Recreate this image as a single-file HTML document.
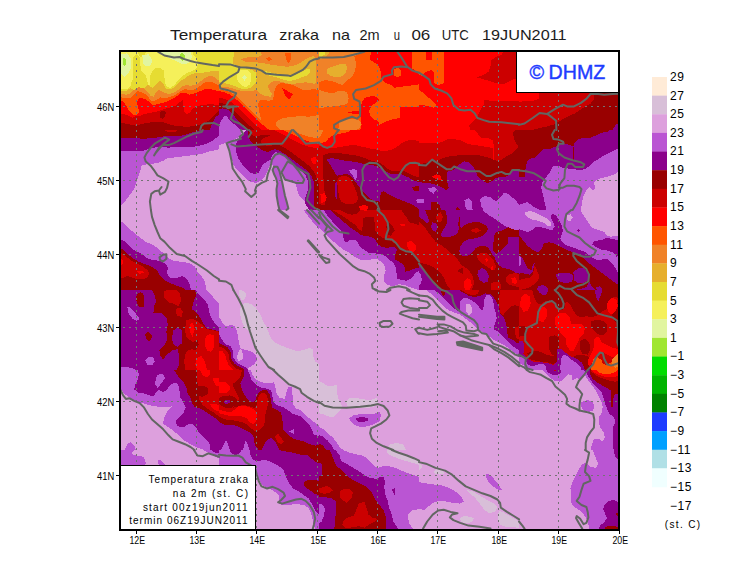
<!DOCTYPE html>
<html><head><meta charset="utf-8"><title>Temperatura zraka na 2m</title>
<style>
html,body{margin:0;padding:0;background:#fff;}
body{width:740px;height:582px;overflow:hidden;font-family:"Liberation Sans",sans-serif;}
svg{display:block;}
text{font-family:"Liberation Sans",sans-serif;fill:#000;}
.ax{font-size:11.5px;}
.lg{font-size:12px;letter-spacing:0.5px;}
.ttl{font-size:15px;fill:#1c1c1c;}
.box{font-size:10px;}
.dh{font-size:21px;fill:#1E3CFF;stroke:#1E3CFF;stroke-width:0.45px;}
</style></head><body>
<svg width="740" height="582" viewBox="0 0 740 582">
<defs>
<clipPath id="mapclip"><rect x="121" y="52" width="497" height="477"/></clipPath>
<clipPath id="c0"><rect x="119" y="50" width="100" height="80"/></clipPath>
<clipPath id="c1"><rect x="219" y="50" width="100" height="80"/></clipPath>
<clipPath id="c2"><rect x="319" y="50" width="100" height="80"/></clipPath>
<clipPath id="c3"><rect x="419" y="50" width="100" height="80"/></clipPath>
<clipPath id="c4"><rect x="519" y="50" width="100" height="80"/></clipPath>
<clipPath id="c5"><rect x="119" y="130" width="100" height="80"/></clipPath>
<clipPath id="c6"><rect x="219" y="130" width="100" height="80"/></clipPath>
<clipPath id="c7"><rect x="319" y="130" width="100" height="80"/></clipPath>
<clipPath id="c8"><rect x="419" y="130" width="100" height="80"/></clipPath>
<clipPath id="c9"><rect x="519" y="130" width="100" height="80"/></clipPath>
<clipPath id="c10"><rect x="119" y="210" width="100" height="80"/></clipPath>
<clipPath id="c11"><rect x="219" y="210" width="100" height="80"/></clipPath>
<clipPath id="c12"><rect x="319" y="210" width="100" height="80"/></clipPath>
<clipPath id="c13"><rect x="419" y="210" width="100" height="80"/></clipPath>
<clipPath id="c14"><rect x="519" y="210" width="100" height="80"/></clipPath>
<clipPath id="c15"><rect x="119" y="290" width="100" height="80"/></clipPath>
<clipPath id="c16"><rect x="219" y="290" width="100" height="80"/></clipPath>
<clipPath id="c17"><rect x="319" y="290" width="100" height="80"/></clipPath>
<clipPath id="c18"><rect x="419" y="290" width="100" height="80"/></clipPath>
<clipPath id="c19"><rect x="519" y="290" width="100" height="80"/></clipPath>
<clipPath id="c20"><rect x="119" y="370" width="100" height="80"/></clipPath>
<clipPath id="c21"><rect x="219" y="370" width="100" height="80"/></clipPath>
<clipPath id="c22"><rect x="319" y="370" width="100" height="80"/></clipPath>
<clipPath id="c23"><rect x="419" y="370" width="100" height="80"/></clipPath>
<clipPath id="c24"><rect x="519" y="370" width="100" height="80"/></clipPath>
<clipPath id="c25"><rect x="119" y="450" width="100" height="80"/></clipPath>
<clipPath id="c26"><rect x="219" y="450" width="100" height="80"/></clipPath>
<clipPath id="c27"><rect x="319" y="450" width="100" height="80"/></clipPath>
<clipPath id="c28"><rect x="419" y="450" width="100" height="80"/></clipPath>
<clipPath id="c29"><rect x="519" y="450" width="100" height="80"/></clipPath>
</defs>
<rect x="0" y="0" width="740" height="582" fill="#fff"/>
<g clip-path="url(#mapclip)" shape-rendering="crispEdges">
<rect x="121" y="52" width="497" height="477" fill="#DDA0DD"/>
<g clip-path="url(#c0)">
<rect x="119" y="50" width="100" height="80" fill="#990000"/>
<path d="M219.1 114.6 L215.2 117.4 L213.6 120.4 L211.8 124.2 L209.7 130.0 L219.1 130.0Z" fill="#8B008B"/>
<path d="M119.0 50.0 L219.1 50.0 L219.1 110.5 L215.2 114.6 L209.7 120.1 L201.5 124.2 L187.7 127.0 L174.0 125.6 L160.2 121.5 L146.5 122.9 L135.5 125.6 L121.7 122.9 L119.0 122.9 L119.0 122.9Z" fill="#CC0000"/>
<path d="M160.2 111.9 L163.7 110.8 L166.0 112.5 L165.0 116.0 L162.7 118.7 L160.2 118.0 L159.5 114.6Z" fill="#990000"/>
<path d="M119.0 50.0 L219.1 50.0 L219.1 104.7 L208.3 104.3 L201.5 105.3 L196.8 106.1 L193.2 108.4 L189.8 112.5 L187.0 113.9 L184.7 112.5 L183.6 107.7 L182.5 100.2 L179.5 102.2 L175.4 105.7 L169.9 107.7 L164.4 108.8 L160.2 110.5 L154.7 112.1 L149.2 113.0 L143.7 114.3 L139.6 116.3 L136.2 115.7 L132.7 117.6 L129.3 116.0 L125.2 114.6 L120.9 113.9 L119.0 113.9Z" fill="#FF0000"/>
<path d="M119.0 50.0 L219.1 50.0 L219.1 91.2 L213.8 89.9 L208.3 88.5 L204.2 89.2 L200.1 91.2 L196.8 92.6 L193.2 94.0 L189.1 94.7 L185.0 92.6 L181.5 92.6 L178.1 95.4 L174.0 98.1 L169.9 100.2 L165.7 102.2 L161.6 102.9 L157.5 104.3 L153.4 105.0 L150.6 103.6 L147.9 100.9 L145.1 98.8 L141.0 98.1 L138.2 98.8 L136.9 102.2 L138.2 107.7 L139.6 111.9 L136.9 114.6 L134.1 115.3 L131.4 113.2 L128.6 110.5 L125.9 105.0 L123.1 101.5 L120.9 100.2 L119.0 100.2Z" fill="#FF5500"/>
<path d="M119.0 50.0 L219.1 50.0 L219.1 85.7 L215.2 83.7 L211.1 81.6 L207.0 81.6 L202.8 83.7 L198.7 87.1 L196.8 88.5 L193.2 89.9 L189.1 89.9 L185.0 89.2 L180.9 91.2 L176.7 94.0 L172.6 96.0 L168.5 97.4 L164.4 98.1 L160.2 97.4 L157.5 99.5 L153.4 101.5 L150.6 100.2 L147.9 96.7 L145.1 94.0 L141.0 91.9 L136.9 91.2 L134.1 94.0 L131.4 97.4 L127.2 98.1 L120.9 97.4 L119.0 97.4Z" fill="#F08228"/>
<path d="M119.0 50.0 L219.1 50.0 L219.1 80.9 L215.2 77.5 L211.1 75.4 L207.0 76.8 L202.8 79.6 L198.7 83.0 L194.6 85.1 L190.5 85.7 L186.4 85.1 L182.2 86.4 L178.1 89.9 L174.0 92.6 L169.9 94.0 L165.7 93.3 L161.6 91.2 L158.9 89.9 L156.1 92.6 L153.4 96.7 L150.6 96.0 L147.9 91.9 L145.1 89.2 L141.0 87.1 L138.2 85.1 L135.5 87.1 L132.7 91.2 L130.0 94.0 L125.9 94.7 L120.9 94.0 L119.0 94.0Z" fill="#E6AF2D"/>
<path d="M119.0 50.0 L219.1 50.0 L219.1 70.6 L213.8 70.6 L208.3 72.0 L202.8 72.7 L197.4 73.1 L193.2 73.6 L189.1 75.4 L185.0 78.2 L180.9 80.9 L177.4 84.4 L174.0 87.4 L170.1 89.6 L166.4 88.8 L164.4 86.0 L162.3 82.3 L160.2 80.9 L157.5 83.0 L154.7 86.4 L152.0 87.8 L149.5 85.7 L147.9 82.3 L145.8 79.6 L143.1 78.2 L139.6 75.4 L136.9 74.7 L134.8 77.5 L132.7 83.0 L130.7 87.8 L127.2 90.5 L120.9 91.2 L119.0 91.2Z" fill="#E6DC32"/>
<path d="M119.0 50.0 L193.2 50.0 L193.2 54.1 L196.0 58.2 L198.0 63.7 L196.0 69.2 L191.9 71.3 L187.7 72.7 L183.6 75.4 L179.5 78.9 L176.0 83.0 L173.3 86.0 L170.1 87.8 L167.1 87.1 L165.5 84.4 L164.4 77.5 L163.7 70.6 L160.2 67.9 L156.1 67.9 L152.7 70.6 L149.9 76.1 L149.5 85.1 L147.9 84.4 L147.2 80.2 L145.8 76.8 L143.1 74.7 L139.6 73.4 L136.9 72.7 L134.4 74.7 L132.7 79.6 L131.1 85.1 L127.9 88.5 L119.0 89.9Z" fill="#F5F05A"/>
<path d="M136.9 50.0 L146.5 50.0 L144.4 55.5 L141.7 57.6 L138.9 55.5Z" fill="#E6DC32"/>
<path d="M132.7 58.2 L136.9 54.1 L139.6 56.9 L140.3 63.7 L141.0 70.6 L145.1 74.1 L147.2 80.2 L147.9 84.4 L143.7 88.5 L138.2 87.1 L134.1 89.9 L131.4 88.5 L130.7 84.4 L132.7 79.6 L133.4 73.4 L132.7 66.5Z" fill="#E6DC32"/>
<path d="M121.7 54.1 L127.2 53.4 L130.7 58.2 L131.4 66.5 L128.6 73.4 L124.5 76.8 L121.7 74.7 L119.0 63.7 L119.0 54.1Z" fill="#E1F5A0"/>
<path d="M142.4 55.5 L148.6 54.1 L152.0 59.6 L151.3 65.1 L146.5 66.5 L143.1 63.7Z" fill="#E1F5A0"/>
<path d="M158.9 50.0 L190.5 50.0 L191.9 56.9 L189.8 61.7 L185.7 64.4 L180.9 63.7 L176.7 61.0 L172.6 59.6 L167.1 56.9 L161.6 54.1Z" fill="#E1F5A0"/>
<path d="M123.1 58.2 L125.2 57.6 L126.1 61.0 L125.9 65.1 L124.2 66.8 L123.1 63.7Z" fill="#A0E632"/>
<path d="M179.5 54.1 L182.9 53.0 L185.3 56.2 L184.7 59.6 L182.2 61.0 L180.2 58.2Z" fill="#A0E632"/>
</g>
<g clip-path="url(#c1)">
<rect x="219" y="50" width="100" height="80" fill="#FF5500"/>
<path d="M219.0 50.0 L319.1 50.0 L319.1 89.9 L313.8 89.2 L308.3 89.9 L302.8 89.9 L297.4 87.1 L291.9 84.6 L286.4 83.7 L280.9 83.0 L276.7 85.1 L274.7 89.9 L274.0 95.4 L272.6 99.5 L268.5 100.9 L263.0 99.5 L258.9 100.9 L258.2 105.0 L258.9 110.5 L260.2 116.0 L261.6 120.1 L260.2 119.4 L256.1 115.3 L251.3 110.5 L246.5 105.7 L241.7 100.9 L236.9 96.7 L230.0 91.9 L224.5 90.5 L219.0 89.6Z" fill="#F08228"/>
<path d="M319.1 114.6 L313.8 116.0 L308.3 116.7 L301.5 116.0 L294.6 116.7 L287.7 117.4 L280.9 118.7 L276.7 121.5 L275.4 124.9 L278.1 127.7 L280.9 130.0 L319.1 130.0Z" fill="#F08228"/>
<path d="M219.0 50.0 L258.9 50.0 L262.3 54.8 L258.2 56.9 L251.3 56.6 L244.4 58.0 L241.0 59.6 L245.8 61.7 L254.7 62.1 L263.0 63.2 L271.2 64.8 L279.5 65.9 L287.7 66.8 L294.6 65.4 L300.8 62.6 L305.6 59.3 L310.4 56.9 L313.8 56.2 L315.9 58.2 L316.3 70.6 L315.9 83.0 L313.8 83.8 L311.1 83.0 L305.6 82.3 L300.1 83.0 L294.6 83.7 L289.1 83.7 L283.6 82.3 L278.1 80.9 L274.0 80.9 L269.9 83.0 L267.8 86.4 L269.9 90.5 L271.9 94.0 L270.5 96.7 L265.7 96.0 L260.9 94.0 L258.2 91.2 L256.1 89.9 L250.6 91.2 L243.7 91.2 L236.9 89.9 L231.4 87.8 L225.2 87.1 L219.0 86.8Z" fill="#E6AF2D"/>
<path d="M241.0 59.6 L246.5 58.2 L254.7 58.5 L260.2 59.3 L254.7 60.7 L246.5 61.0Z" fill="#F08228"/>
<path d="M219.0 50.0 L234.1 50.0 L233.4 58.2 L232.7 63.1 L236.2 65.4 L241.0 67.2 L246.5 68.6 L252.0 69.9 L256.1 72.7 L256.8 77.5 L255.4 83.0 L252.0 87.1 L246.5 89.2 L241.0 88.5 L235.5 86.4 L230.0 84.4 L224.5 83.0 L219.0 82.3Z" fill="#E6DC32"/>
<path d="M264.4 70.6 L271.2 72.7 L278.1 74.1 L285.0 75.4 L290.5 76.1 L296.0 74.7 L301.5 72.0 L307.0 68.6 L309.7 69.2 L310.4 72.7 L307.0 75.4 L301.5 77.5 L296.0 79.6 L290.5 80.9 L285.0 80.2 L279.5 78.2 L274.0 76.8 L268.5 75.4 L264.4 73.4Z" fill="#E6DC32"/>
<path d="M239.6 70.6 L246.5 69.5 L250.6 72.7 L251.3 78.9 L249.9 84.4 L245.8 87.1 L241.0 85.1 L237.6 80.9 L236.9 75.4Z" fill="#F5F05A"/>
<path d="M244.4 74.7 L246.5 77.5 L244.4 80.9 L242.4 77.5Z" fill="#E1F5A0"/>
<path d="M265.7 58.9 L269.2 56.9 L272.3 59.3 L269.2 61.0Z" fill="#FF5500"/>
<path d="M285.0 53.4 L291.2 53.4 L290.5 59.6 L288.4 63.7 L286.1 59.6Z" fill="#FF5500"/>
<path d="M282.2 87.8 L287.7 91.2 L293.2 94.0 L289.1 99.5 L285.0 95.4Z" fill="#FF0000"/>
<path d="M219.0 91.2 L224.5 92.3 L230.0 94.7 L234.8 98.1 L239.6 102.2 L244.4 107.0 L249.2 111.9 L254.1 116.7 L258.9 121.5 L263.7 125.6 L269.2 130.0 L219.0 130.0Z" fill="#FF0000"/>
<path d="M219.0 97.4 L224.5 98.8 L229.3 100.9 L234.1 104.3 L238.2 107.7 L242.4 111.9 L246.5 116.0 L250.6 120.1 L254.7 124.2 L258.9 127.7 L261.6 130.0 L219.0 130.0Z" fill="#CC0000"/>
<path d="M219.0 102.9 L223.1 103.6 L227.2 105.0 L231.4 107.7 L234.8 111.2 L238.2 114.6 L241.7 118.0 L245.1 121.5 L248.6 124.9 L252.0 127.7 L254.7 130.0 L219.0 130.0Z" fill="#990000"/>
<path d="M219.0 109.1 L222.4 108.4 L225.9 108.8 L229.3 110.5 L232.1 113.2 L234.1 116.0 L236.9 119.4 L240.3 122.9 L243.7 125.6 L246.5 128.4 L248.6 130.0 L219.0 130.0Z" fill="#8B008B"/>
<path d="M219.0 124.9 L221.7 120.1 L224.5 116.0 L226.6 115.7 L227.9 117.4 L229.3 120.1 L231.4 122.2 L234.1 124.2 L236.9 126.3 L239.6 129.0 L241.0 130.0 L219.0 130.0Z" fill="#BA55D3"/>
</g>
<g clip-path="url(#c2)">
<rect x="319" y="50" width="100" height="80" fill="#FF5500"/>
<path d="M319.0 50.0 L364.4 50.0 L360.2 53.4 L354.1 56.2 L356.1 62.4 L355.4 69.2 L353.4 74.7 L349.2 78.9 L345.1 82.3 L342.4 85.1 L336.9 83.0 L331.4 80.9 L325.9 80.2 L321.7 80.9 L319.0 82.3Z" fill="#F08228"/>
<path d="M319.0 50.0 L329.3 50.0 L328.6 53.4 L325.9 56.9 L322.4 58.5 L319.0 58.9Z" fill="#E6AF2D"/>
<path d="M319.0 50.0 L325.2 50.0 L324.5 54.8 L321.7 56.6 L319.0 56.9Z" fill="#E6DC32"/>
<path d="M326.6 69.2 L332.7 66.5 L339.6 64.4 L345.8 63.7 L347.2 67.9 L345.8 72.7 L342.4 76.1 L336.9 77.5 L331.4 76.1 L327.2 73.4Z" fill="#E6AF2D"/>
<path d="M319.0 89.9 L323.1 91.2 L328.6 92.6 L332.7 93.3 L338.2 91.2 L343.7 90.5 L347.2 92.6 L348.6 98.1 L347.9 102.9 L343.7 105.0 L338.2 105.7 L332.7 106.4 L327.2 107.0 L323.1 107.7 L319.0 107.7Z" fill="#F08228"/>
<path d="M339.6 121.5 L346.5 119.4 L354.7 118.7 L360.2 120.8 L361.6 124.9 L358.9 128.4 L356.1 130.0 L338.2 130.0Z" fill="#F08228"/>
<path d="M371.9 50.0 L419.1 50.0 L419.1 84.4 L415.2 85.1 L409.7 85.7 L404.2 86.4 L398.7 87.1 L393.9 87.8 L391.9 85.1 L387.7 83.7 L383.6 81.6 L381.5 77.5 L380.9 74.1 L380.2 69.2 L378.1 65.1 L374.0 62.4 L369.9 59.6 L370.5 55.5Z" fill="#FF0000"/>
<path d="M393.9 69.2 L398.0 67.9 L401.5 70.6 L400.8 75.4 L397.4 77.5 L393.9 75.4Z" fill="#FF5500"/>
<path d="M411.9 50.0 L419.1 50.0 L419.1 74.1 L415.2 70.6 L412.5 68.6Z" fill="#FF5500"/>
<path d="M364.4 98.1 L371.2 96.0 L376.7 96.7 L379.5 100.2 L375.4 102.9 L371.2 106.4 L369.2 110.5 L369.9 115.3 L374.0 119.4 L378.1 120.8 L379.5 124.9 L380.2 130.0 L360.2 130.0 L361.6 124.9 L360.9 118.7 L360.2 114.6 L353.4 113.9 L347.9 112.5 L353.4 111.2 L358.9 110.5 L360.9 106.4 L362.3 101.5Z" fill="#FF0000"/>
<path d="M400.1 107.0 L419.1 106.6 L419.1 130.0 L400.1 130.0Z" fill="#FF0000"/>
<path d="M379.5 124.9 L385.0 121.8 L390.5 119.8 L396.0 118.7 L400.1 117.4 L400.1 130.0 L379.5 130.0Z" fill="#FF0000"/>
</g>
<g clip-path="url(#c3)">
<rect x="419" y="50" width="100" height="80" fill="#FF0000"/>
<path d="M419.0 50.0 L426.4 50.0 L426.4 59.5 L431.6 59.5 L431.6 50.0 L444.0 50.0 L444.0 83.0 L438.9 85.1 L434.0 83.0 L434.0 72.0 L431.0 69.9 L426.0 72.0 L421.1 76.0 L419.0 74.1Z" fill="#FF5500"/>
<path d="M419.0 89.9 L423.1 92.6 L427.2 96.7 L432.7 100.9 L436.2 105.0 L434.1 107.7 L427.2 105.7 L419.0 105.0Z" fill="#FF5500"/>
<path d="M504.2 50.0 L519.1 50.0 L519.1 77.5 L512.5 79.6 L507.0 82.3 L502.8 84.4 L496.0 83.0 L489.1 80.9 L482.2 78.9 L476.7 77.5 L483.6 74.7 L488.4 72.0 L490.5 66.5 L491.2 60.3 L496.0 56.9 L501.5 54.8Z" fill="#CC0000"/>
<path d="M484.3 100.2 L496.0 100.9 L519.1 101.1 L519.1 130.0 L469.9 130.0 L469.2 124.9 L472.6 121.5 L476.7 117.4 L479.5 111.9 L482.2 106.4 L484.3 103.6Z" fill="#CC0000"/>
</g>
<g clip-path="url(#c4)">
<rect x="519" y="50" width="100" height="80" fill="#CC0000"/>
<path d="M519.0 91.2 L538.9 91.2 L538.9 98.8 L532.7 100.9 L525.9 100.6 L519.0 102.2Z" fill="#FF0000"/>
<path d="M593.2 91.2 L619.1 91.2 L619.1 130.0 L531.4 130.0 L539.6 128.1 L547.9 126.3 L554.7 124.2 L560.2 120.8 L565.0 118.0 L569.2 115.7 L574.0 113.9 L579.5 110.5 L585.0 106.6 L590.5 103.6 L593.9 99.5Z" fill="#990000"/>
<path d="M619.1 122.2 L615.2 125.6 L612.5 130.0 L619.1 130.0Z" fill="#8B008B"/>
</g>
<g clip-path="url(#c5)">
<rect x="119" y="130" width="100" height="80" fill="#DDA0DD"/>
<path d="M119.0 130.0 L219.1 130.0 L219.1 149.2 L213.8 150.6 L207.0 152.0 L201.5 154.1 L196.0 154.7 L190.5 155.4 L185.0 156.1 L179.5 156.8 L174.0 157.5 L167.1 158.2 L163.0 160.9 L157.5 163.0 L152.0 163.7 L146.5 164.4 L141.7 165.7 L139.6 172.6 L136.9 180.9 L134.1 189.1 L130.0 194.6 L125.9 200.1 L121.7 204.9 L120.9 207.0 L119.0 207.0Z" fill="#BA55D3"/>
<path d="M119.0 130.0 L219.1 130.0 L219.1 135.5 L216.6 137.6 L213.2 140.3 L208.3 143.1 L202.8 144.8 L197.4 146.2 L190.5 147.2 L183.6 146.8 L176.7 147.2 L168.5 147.6 L161.6 147.2 L156.1 147.2 L150.6 148.6 L143.7 150.6 L132.7 150.9 L119.0 150.9Z" fill="#8B008B"/>
<path d="M119.0 130.0 L201.5 130.0 L196.0 131.6 L190.5 133.0 L186.4 134.4 L180.9 135.8 L175.4 136.2 L169.9 135.8 L164.4 136.2 L160.2 137.1 L153.4 138.0 L146.5 138.5 L139.6 138.5 L132.7 138.2 L125.9 138.2 L119.0 138.0Z" fill="#990000"/>
<path d="M164.4 130.0 L178.1 130.0 L175.4 131.6 L169.9 132.1 L166.4 131.4Z" fill="#CC0000"/>
</g>
<g clip-path="url(#c6)">
<rect x="219" y="130" width="100" height="80" fill="#DDA0DD"/>
<path d="M219.0 130.0 L242.4 130.0 L241.0 135.5 L236.9 138.2 L231.4 141.0 L225.9 142.4 L221.7 144.4 L219.0 145.4Z" fill="#BA55D3"/>
<path d="M226.6 142.6 L234.1 140.3 L242.4 135.5 L250.6 130.0 L296.0 130.0 L296.0 157.5 L279.5 153.6 L275.4 154.7 L271.9 159.6 L270.5 163.0 L267.8 169.9 L265.0 176.7 L260.2 180.9 L256.1 182.9 L252.0 182.2 L248.6 180.9 L245.1 177.4 L241.0 174.0 L236.9 169.9 L233.4 164.4 L231.4 157.5 L230.0 150.6 L227.9 145.8Z" fill="#BA55D3"/>
<path d="M279.5 153.6 L296.0 130.0 L319.1 130.0 L319.1 210.0 L313.8 210.0 L308.3 204.9 L303.5 200.1 L299.4 196.0 L297.1 190.5 L296.0 184.3 L301.5 183.6 L303.5 180.9 L301.5 175.4 L297.4 169.9 L293.2 164.4 L289.8 160.9 L285.0 156.8Z" fill="#BA55D3"/>
<path d="M285.0 156.8 L289.8 160.9 L293.2 164.4 L297.4 169.9 L301.5 175.4 L303.5 180.9 L301.5 183.6 L296.0 183.9 L290.5 182.2 L285.7 180.2 L282.9 176.7 L281.5 173.3 L283.6 169.9 L286.4 164.4 L287.7 161.6Z" fill="#BA55D3"/>
<path d="M274.0 166.8 L277.4 166.8 L279.5 171.2 L280.9 176.7 L282.2 182.2 L283.6 189.1 L285.0 196.0 L287.0 202.9 L288.4 208.4 L286.4 210.0 L279.5 210.0 L278.1 204.2 L276.7 196.0 L276.5 189.1 L277.4 183.6 L276.0 178.1 L274.0 174.0 L272.6 169.9Z" fill="#BA55D3"/>
<path d="M271.9 159.6 L275.4 154.7 L279.5 153.6 L285.0 156.8 L287.7 161.6 L283.6 169.9 L281.5 173.3 L279.5 171.2 L277.4 166.8 L274.0 166.8 L271.9 164.4Z" fill="#BA55D3"/>
<path d="M245.8 130.0 L319.1 130.0 L319.1 210.0 L309.0 210.0 L305.6 204.2 L304.9 198.7 L307.0 193.2 L308.3 187.7 L307.7 180.9 L305.6 175.4 L301.5 171.2 L296.0 167.1 L291.9 163.0 L287.7 158.9 L283.6 155.4 L279.5 153.4 L275.4 152.0 L271.9 156.1 L270.5 159.6 L267.1 161.6 L263.0 164.4 L260.9 168.5 L258.9 172.6 L254.7 174.0 L250.6 172.6 L246.5 169.2 L242.4 164.4 L238.9 159.6 L236.9 154.7 L235.5 149.9 L235.5 145.1 L237.6 141.0 L241.7 136.9 L244.4 132.7Z" fill="#8B008B"/>
<path d="M248.6 130.0 L319.1 130.0 L319.1 210.0 L315.2 210.0 L313.8 204.2 L313.8 196.0 L314.5 189.1 L313.8 182.2 L311.1 175.4 L307.0 170.5 L301.5 166.4 L296.0 162.3 L290.5 158.2 L285.0 154.1 L279.5 150.6 L275.4 149.2 L271.2 150.6 L267.1 152.0 L263.0 150.6 L258.9 147.9 L254.7 145.1 L251.3 141.7 L248.6 138.2 L247.9 134.1Z" fill="#990000"/>
<path d="M250.6 130.0 L319.1 130.0 L319.1 185.0 L317.3 179.5 L314.5 172.6 L310.4 167.1 L305.6 163.0 L300.1 158.9 L294.6 154.7 L289.1 150.6 L283.6 147.2 L279.5 145.1 L274.0 145.1 L269.9 146.2 L265.7 145.4 L261.6 143.1 L260.2 141.0 L263.0 138.2 L267.1 136.9 L269.9 135.5 L265.7 134.8 L260.2 135.5 L256.1 136.9 L252.7 135.5 L251.3 132.7Z" fill="#CC0000"/>
<path d="M274.0 130.0 L319.1 130.0 L319.1 147.9 L313.8 147.6 L308.3 146.5 L302.8 144.8 L297.4 142.4 L291.9 139.3 L286.4 136.2 L280.9 133.4 L276.7 131.4Z" fill="#FF0000"/>
<path d="M311.1 158.2 L315.2 156.8 L316.9 160.2 L315.2 164.4 L311.8 163.0Z" fill="#FF0000"/>
<path d="M278.8 130.0 L319.1 130.0 L319.1 143.1 L313.8 142.6 L308.3 141.3 L302.8 139.3 L297.4 136.9 L291.9 134.1 L286.4 131.6 L283.6 130.0Z" fill="#FF5500"/>
<path d="M285.0 130.0 L319.1 130.0 L319.1 137.6 L313.8 137.6 L308.3 136.6 L302.8 134.8 L297.4 132.7 L291.9 130.7 L290.5 130.0Z" fill="#F08228"/>
</g>
<g clip-path="url(#c7)">
<rect x="319" y="130" width="100" height="80" fill="#CC0000"/>
<path d="M319.0 130.0 L419.1 130.0 L419.1 141.0 L415.2 140.3 L408.3 140.3 L401.5 143.1 L397.4 146.5 L393.2 149.2 L387.7 150.6 L380.9 150.6 L374.0 149.2 L367.1 147.9 L360.2 146.2 L353.4 144.8 L346.5 145.8 L339.6 147.2 L332.7 147.9 L325.9 147.2 L319.0 145.8Z" fill="#FF0000"/>
<path d="M319.0 130.0 L350.6 130.0 L349.9 131.4 L345.1 132.7 L338.2 134.1 L332.7 135.5 L328.6 138.2 L325.9 141.7 L321.7 143.1 L319.0 143.1Z" fill="#FF5500"/>
<path d="M319.0 130.0 L323.1 130.0 L321.7 134.1 L319.0 138.2Z" fill="#F08228"/>
<path d="M323.1 155.4 L327.2 153.6 L334.1 152.7 L342.4 153.6 L350.6 154.7 L357.5 155.8 L363.0 157.5 L368.5 159.6 L374.0 161.3 L379.5 162.7 L383.6 165.5 L387.7 168.8 L391.9 171.0 L397.4 171.0 L401.5 170.1 L407.0 172.6 L413.8 176.0 L419.1 177.4 L419.1 210.0 L319.0 210.0 L319.0 204.2 L324.5 204.9 L325.2 198.7 L324.5 190.5 L323.8 182.2 L323.1 174.0 L322.8 164.4Z" fill="#990000"/>
<path d="M326.6 158.9 L332.7 158.2 L339.6 159.6 L346.5 160.9 L353.4 161.6 L360.2 163.0 L365.7 164.4 L371.2 165.1 L376.7 166.0 L380.9 168.5 L385.0 171.2 L390.5 173.7 L396.0 173.7 L401.5 174.3 L408.3 177.4 L415.2 180.9 L419.1 182.2 L419.1 209.0 L415.2 206.3 L408.3 202.9 L401.5 200.1 L394.6 197.4 L387.7 193.9 L383.6 191.2 L381.5 191.9 L380.2 196.0 L379.5 201.5 L374.0 200.8 L368.5 197.4 L363.0 191.9 L358.9 186.4 L354.7 180.9 L350.6 176.0 L346.5 174.0 L341.0 174.7 L336.9 176.0 L334.1 171.2 L330.7 165.7 L327.9 161.6Z" fill="#8B008B"/>
<path d="M411.8 187.0 L419.1 185.7 L419.1 190.5 L413.8 190.5Z" fill="#990000"/>
<path d="M415.9 200.1 L419.1 198.7 L419.1 202.9 L417.3 202.6Z" fill="#BA55D3"/>
<path d="M349.2 169.9 L354.7 169.2 L357.5 171.2 L357.2 177.4 L355.4 180.2 L352.7 175.4 L349.9 171.9Z" fill="#BA55D3"/>
<path d="M337.6 178.1 L342.4 176.0 L346.5 176.0 L349.9 178.1 L352.7 182.9 L354.7 187.7 L356.8 193.2 L358.2 198.7 L356.1 202.9 L350.6 204.2 L345.1 203.5 L341.0 201.5 L338.9 196.0 L338.0 189.1 L337.3 183.6Z" fill="#CC0000"/>
<path d="M320.4 193.9 L324.5 193.2 L326.6 197.4 L325.2 202.2 L321.1 202.9Z" fill="#FF0000"/>
<path d="M358.9 206.3 L364.4 204.9 L368.5 207.0 L367.1 210.0 L360.2 210.0Z" fill="#FF0000"/>
<path d="M334.8 182.9 L336.6 182.2 L337.1 190.5 L336.6 198.7 L335.2 196.0Z" fill="#8B008B"/>
</g>
<g clip-path="url(#c8)">
<rect x="419" y="130" width="100" height="80" fill="#8B008B"/>
<path d="M419.0 130.0 L519.1 130.0 L519.1 171.2 L515.2 169.9 L511.1 171.2 L508.3 175.4 L504.2 177.4 L498.7 177.4 L494.6 178.8 L490.5 182.2 L486.4 182.9 L482.2 180.2 L478.1 176.7 L475.4 171.2 L472.6 165.7 L468.5 162.3 L464.4 161.3 L460.2 163.7 L456.1 167.8 L452.0 170.5 L447.9 171.2 L446.5 175.4 L447.2 182.2 L448.6 187.7 L446.5 190.5 L442.4 187.7 L436.9 185.0 L431.4 183.6 L425.9 182.9 L419.0 182.2Z" fill="#990000"/>
<path d="M419.0 130.0 L519.1 130.0 L519.1 146.5 L515.2 150.6 L511.1 154.1 L507.0 156.1 L502.8 158.9 L498.7 161.6 L494.6 159.6 L490.5 158.2 L485.0 156.8 L479.5 155.4 L474.0 154.7 L468.5 154.5 L463.0 154.7 L457.5 155.4 L452.0 156.1 L446.5 156.8 L441.0 158.9 L436.9 160.9 L432.7 159.6 L430.0 160.9 L425.9 163.0 L421.7 163.7 L419.0 163.7Z" fill="#CC0000"/>
<path d="M515.2 130.0 L519.1 130.0 L519.1 147.9 L516.6 143.7 L513.8 138.2 L513.2 132.7Z" fill="#990000"/>
<path d="M419.0 130.0 L474.0 130.0 L478.1 134.1 L480.9 137.6 L487.7 138.2 L493.2 140.3 L493.9 147.9 L487.7 147.2 L480.9 145.8 L474.0 145.1 L467.1 143.7 L460.2 140.3 L453.4 138.9 L446.5 139.6 L441.0 142.4 L432.7 143.1 L425.9 143.1 L419.0 143.1Z" fill="#FF0000"/>
<path d="M493.2 147.9 L494.3 147.9 L494.3 159.6 L493.5 159.6Z" fill="#FF0000"/>
<path d="M431.4 176.7 L436.9 174.3 L441.0 176.0 L441.7 179.5 L438.2 180.2 L434.1 178.1Z" fill="#FF0000"/>
<path d="M427.9 188.4 L434.1 187.0 L436.9 189.1 L433.4 193.9 L430.0 191.2Z" fill="#BA55D3"/>
<path d="M419.0 199.4 L423.8 199.4 L424.5 202.9 L419.0 202.9Z" fill="#BA55D3"/>
<path d="M464.4 200.1 L468.5 198.0 L471.9 201.5 L472.6 210.0 L467.1 210.0 L465.0 205.6Z" fill="#BA55D3"/>
<path d="M480.2 198.7 L485.0 196.0 L490.5 197.4 L496.0 201.5 L500.1 197.4 L504.2 192.5 L508.3 193.9 L513.8 198.7 L519.1 204.2 L519.1 210.0 L483.6 210.0 L480.9 205.6Z" fill="#BA55D3"/>
<path d="M431.4 202.2 L436.9 201.5 L439.6 205.6 L441.0 210.0 L430.7 210.0Z" fill="#990000"/>
<path d="M455.4 210.0 L457.5 207.0 L460.2 210.0Z" fill="#990000"/>
</g>
<g clip-path="url(#c9)">
<rect x="519" y="130" width="100" height="80" fill="#8B008B"/>
<path d="M519.0 130.0 L609.7 130.0 L607.0 132.1 L601.5 132.7 L596.0 135.5 L590.5 137.6 L583.6 138.2 L578.1 138.9 L574.7 142.4 L574.0 146.5 L569.9 145.1 L564.4 143.7 L560.2 144.4 L556.1 146.5 L550.6 148.6 L543.7 149.2 L539.6 152.7 L535.5 157.5 L531.4 158.2 L527.9 160.2 L525.9 165.7 L525.2 171.2 L524.5 177.4 L519.0 177.4Z" fill="#990000"/>
<path d="M573.2 146.5 L574.3 146.5 L574.3 159.6 L573.2 159.6Z" fill="#990000"/>
<path d="M619.1 147.9 L615.2 149.9 L609.7 152.7 L604.2 155.4 L598.7 158.9 L593.2 162.3 L589.1 166.4 L585.0 169.2 L579.5 169.9 L574.0 169.2 L568.5 168.5 L563.0 167.8 L557.5 165.7 L553.4 165.5 L551.3 169.9 L548.6 174.0 L545.8 177.4 L542.4 182.2 L541.0 187.7 L543.1 194.6 L544.4 201.5 L545.8 207.0 L546.5 210.0 L619.1 210.0Z" fill="#BA55D3"/>
<path d="M519.0 204.9 L523.1 203.5 L527.2 202.2 L530.7 204.2 L534.1 207.0 L538.2 209.0 L539.6 210.0 L519.0 210.0Z" fill="#BA55D3"/>
<path d="M619.1 171.2 L615.2 174.0 L609.7 176.0 L604.2 177.4 L598.7 178.8 L593.9 182.2 L595.3 187.7 L593.2 190.5 L589.1 187.0 L586.4 190.5 L583.6 196.0 L582.2 201.5 L580.9 210.0 L619.1 210.0Z" fill="#DDA0DD"/>
</g>
<g clip-path="url(#c10)">
<rect x="119" y="210" width="100" height="80" fill="#DDA0DD"/>
<path d="M119.0 221.7 L122.4 222.1 L125.9 225.1 L130.0 229.2 L135.5 234.1 L141.0 238.2 L146.5 242.3 L152.0 244.4 L156.1 247.1 L160.2 250.5 L164.4 254.0 L168.5 258.1 L174.0 260.9 L179.5 261.5 L185.0 262.2 L190.5 263.6 L194.6 266.4 L197.4 271.9 L201.5 276.0 L204.9 281.5 L206.3 290.0 L119.0 290.0Z" fill="#BA55D3"/>
<path d="M119.0 239.6 L123.1 240.2 L127.2 243.7 L131.4 247.8 L135.5 251.2 L139.6 252.6 L143.7 255.4 L146.5 258.1 L150.6 259.5 L154.7 260.2 L160.2 260.9 L165.7 263.6 L167.8 267.7 L167.1 273.2 L169.9 278.0 L176.7 278.0 L182.2 276.0 L186.4 278.7 L189.1 282.9 L191.2 290.0 L119.0 290.0Z" fill="#8B008B"/>
<path d="M119.0 247.1 L123.1 249.9 L127.2 254.0 L132.7 258.1 L138.2 261.5 L143.7 263.6 L149.2 265.7 L153.4 267.7 L157.5 271.2 L160.2 276.0 L164.4 280.1 L169.9 282.9 L176.7 285.6 L182.2 287.7 L186.4 290.0 L119.0 290.0Z" fill="#990000"/>
<path d="M119.0 251.2 L123.1 254.0 L127.2 257.4 L132.7 261.5 L138.2 264.3 L143.7 267.0 L147.9 270.5 L149.2 274.6 L146.5 278.0 L141.0 279.4 L135.5 278.7 L131.4 277.4 L127.2 276.0 L123.1 278.0 L119.0 278.7Z" fill="#CC0000"/>
<path d="M136.9 271.2 L143.1 270.5 L143.7 272.5 L139.6 274.3Z" fill="#FF0000"/>
<path d="M119.0 258.8 L122.4 259.5 L123.1 262.9 L121.7 265.0 L119.0 265.0Z" fill="#FF0000"/>
</g>
<g clip-path="url(#c11)">
<rect x="219" y="210" width="100" height="80" fill="#DDA0DD"/>
<path d="M304.2 210.0 L319.1 210.0 L319.1 229.2 L315.2 225.1 L309.7 218.2 L305.6 212.7Z" fill="#BA55D3"/>
</g>
<g clip-path="url(#c12)">
<rect x="319" y="210" width="100" height="80" fill="#DDA0DD"/>
<path d="M319.0 227.9 L323.1 232.0 L327.2 236.1 L332.7 240.9 L338.2 245.7 L343.7 249.9 L349.2 252.6 L354.7 256.7 L360.2 259.5 L365.7 260.2 L371.2 259.5 L376.7 258.8 L380.9 261.5 L384.3 265.0 L385.7 270.5 L383.6 276.0 L384.3 281.5 L387.7 284.9 L393.2 286.3 L398.7 284.2 L404.2 284.9 L409.7 287.0 L415.2 289.0 L419.1 290.0 L419.1 210.0 L319.0 210.0Z" fill="#BA55D3"/>
<path d="M323.8 210.0 L327.2 215.5 L331.4 220.3 L335.5 225.1 L339.6 229.2 L343.1 234.1 L343.7 240.2 L346.5 242.3 L350.6 239.6 L354.7 239.6 L358.2 243.0 L360.2 247.1 L364.4 249.9 L368.5 252.6 L374.0 253.3 L379.5 254.0 L385.0 256.0 L389.1 259.5 L393.2 262.9 L396.0 267.7 L396.7 274.6 L397.4 278.7 L401.5 280.1 L407.0 280.8 L412.5 277.4 L415.2 273.2 L419.1 270.5 L419.1 210.0Z" fill="#8B008B"/>
<path d="M330.0 210.0 L334.1 214.1 L339.6 218.2 L345.1 223.1 L350.6 227.9 L356.1 231.3 L360.2 234.7 L365.7 236.1 L371.2 236.8 L375.4 239.6 L378.1 244.4 L382.2 247.1 L387.7 247.8 L393.2 246.4 L397.4 249.2 L395.3 254.0 L394.6 259.5 L398.7 261.5 L402.8 264.3 L404.9 267.7 L404.9 271.9 L409.7 270.5 L415.2 268.4 L419.1 267.7 L419.1 210.0Z" fill="#990000"/>
<path d="M332.7 210.0 L338.2 213.4 L345.1 217.6 L350.6 221.7 L355.4 225.1 L358.9 229.2 L361.6 230.6 L363.0 225.1 L363.0 218.2 L366.4 216.9 L374.0 216.9 L374.7 223.7 L375.4 230.6 L378.1 234.7 L382.2 237.5 L387.7 239.6 L391.9 241.6 L396.0 244.4 L400.1 248.5 L404.2 250.5 L409.7 251.2 L413.8 255.4 L416.6 259.5 L419.1 262.2 L419.1 210.0Z" fill="#CC0000"/>
<path d="M339.6 210.0 L360.2 210.0 L357.5 213.4 L352.0 214.8 L346.5 213.4 L342.4 211.4Z" fill="#990000"/>
<path d="M401.5 210.0 L419.1 210.0 L419.1 225.1 L415.2 223.7 L409.7 222.4 L407.0 218.2 L404.2 214.1Z" fill="#990000"/>
<path d="M387.7 221.7 L391.9 225.1 L394.6 230.6 L390.5 236.1 L387.0 233.4 L386.4 226.5Z" fill="#990000"/>
<path d="M398.7 223.7 L404.2 223.5 L405.6 225.8 L401.5 226.5Z" fill="#FF0000"/>
<path d="M407.0 242.3 L411.1 240.9 L415.2 244.4 L416.6 249.2 L413.8 251.9 L409.0 250.5 L407.0 246.4Z" fill="#FF0000"/>
<path d="M363.7 210.0 L367.1 210.0 L365.7 211.6Z" fill="#FF0000"/>
</g>
<g clip-path="url(#c13)">
<rect x="419" y="210" width="100" height="80" fill="#990000"/>
<path d="M419.0 210.0 L425.2 210.0 L427.2 215.5 L429.3 221.0 L427.2 223.1 L423.1 219.6 L419.0 216.9Z" fill="#8B008B"/>
<path d="M432.1 222.4 L436.2 223.1 L437.6 227.9 L435.5 232.0 L432.7 230.6 L431.1 226.5Z" fill="#8B008B"/>
<path d="M445.1 210.0 L460.2 210.0 L459.5 216.9 L458.2 223.7 L458.9 229.2 L457.5 233.4 L453.4 236.1 L446.5 237.5 L441.7 236.8 L441.0 233.4 L443.7 229.2 L446.5 223.7 L447.2 216.9Z" fill="#8B008B"/>
<path d="M460.2 210.0 L482.2 210.0 L486.4 213.4 L490.5 216.2 L496.0 219.6 L500.1 222.4 L504.2 225.8 L508.3 227.6 L501.5 230.6 L496.0 232.0 L494.6 234.7 L493.9 240.2 L492.5 245.7 L493.2 251.2 L496.0 254.0 L493.2 256.7 L490.5 251.2 L487.7 247.1 L483.6 245.5 L479.5 246.0 L475.4 248.5 L471.9 252.6 L467.1 256.5 L462.3 256.0 L459.1 251.9 L460.2 246.0 L464.4 241.3 L469.9 238.9 L476.7 238.2 L482.2 236.1 L486.4 232.0 L488.4 229.2 L485.7 225.1 L480.2 222.4 L474.0 222.1 L468.5 223.1 L464.4 225.1 L460.9 228.6 L459.5 223.7 L460.0 216.9Z" fill="#8B008B"/>
<path d="M508.3 237.5 L519.1 236.8 L519.1 273.2 L515.2 272.5 L512.5 270.5 L508.3 269.1 L502.8 267.7 L498.7 265.0 L496.0 260.9 L493.9 256.0 L496.0 254.0 L500.1 251.2 L504.2 247.8 L507.7 243.7Z" fill="#8B008B"/>
<path d="M478.1 270.5 L482.2 267.7 L486.4 270.5 L489.1 276.0 L487.7 281.5 L483.6 282.9 L479.5 280.1 L477.4 274.6Z" fill="#8B008B"/>
<path d="M419.0 262.9 L423.1 268.4 L427.2 273.9 L432.7 280.8 L438.2 286.3 L441.7 290.0 L419.0 290.0Z" fill="#8B008B"/>
<path d="M419.0 272.5 L421.1 274.6 L421.7 280.1 L420.4 284.2 L419.0 284.9Z" fill="#BA55D3"/>
<path d="M482.2 210.0 L519.1 210.0 L519.1 230.6 L515.2 229.9 L509.7 227.9 L504.2 225.8 L500.1 222.4 L496.0 219.6 L490.5 216.2 L486.4 213.4Z" fill="#BA55D3"/>
<path d="M419.0 221.7 L423.1 225.1 L427.2 230.6 L431.4 236.8 L435.5 241.6 L441.0 245.1 L446.5 249.2 L452.0 254.0 L457.5 259.5 L461.6 265.0 L465.7 267.7 L469.9 271.9 L472.6 276.0 L474.0 281.5 L473.3 287.0 L471.2 290.0 L450.6 290.0 L446.5 284.2 L443.7 277.4 L439.6 271.9 L434.1 267.7 L428.6 265.0 L423.1 263.6 L419.0 262.9Z" fill="#CC0000"/>
<path d="M436.9 214.1 L440.3 212.1 L443.1 216.9 L441.0 221.7 L437.6 222.4 L436.2 218.2Z" fill="#CC0000"/>
<path d="M470.5 229.9 L476.7 227.9 L480.9 230.6 L476.7 232.7 L471.9 232.0Z" fill="#CC0000"/>
<path d="M476.7 256.0 L480.9 252.6 L486.4 253.3 L490.5 256.7 L493.9 260.9 L496.0 266.4 L494.6 270.5 L490.5 269.1 L486.4 266.4 L482.2 263.6 L478.8 260.2Z" fill="#CC0000"/>
<path d="M505.6 277.4 L509.7 273.9 L515.2 273.2 L519.1 273.9 L519.1 287.0 L515.2 286.3 L509.7 284.9 L506.3 281.5Z" fill="#CC0000"/>
<path d="M490.5 283.5 L494.6 281.5 L500.1 282.2 L501.5 287.0 L500.1 290.0 L491.2 290.0Z" fill="#CC0000"/>
<path d="M463.7 281.5 L467.1 278.0 L470.5 280.1 L471.9 284.9 L469.9 289.7 L465.7 290.0 L463.7 286.3Z" fill="#FF0000"/>
<path d="M485.0 259.5 L487.0 258.1 L488.4 260.6 L486.4 262.2Z" fill="#FF0000"/>
<path d="M511.1 278.0 L515.2 277.4 L517.3 280.8 L515.9 284.2 L512.5 282.9Z" fill="#FF0000"/>
<path d="M490.5 267.0 L492.5 266.4 L493.2 269.8 L491.2 269.8Z" fill="#FF0000"/>
<path d="M457.5 271.2 L462.3 267.0 L463.7 274.6Z" fill="#990000"/>
</g>
<g clip-path="url(#c14)">
<rect x="519" y="210" width="100" height="80" fill="#8B008B"/>
<path d="M519.0 210.0 L619.1 210.0 L619.1 274.6 L615.2 267.7 L611.1 262.2 L608.3 259.5 L604.2 258.8 L600.1 260.2 L596.0 259.5 L591.9 257.4 L587.7 254.0 L583.6 251.2 L579.5 249.9 L574.0 247.8 L567.1 245.7 L563.0 243.0 L560.2 238.9 L552.0 230.6 L546.5 228.6 L541.0 227.2 L535.5 227.2 L531.4 230.6 L527.2 232.0 L523.1 230.6 L519.0 229.2Z" fill="#BA55D3"/>
<path d="M552.0 213.4 L556.1 215.5 L558.9 219.6 L561.6 225.1 L563.0 230.6 L561.6 234.7 L560.2 238.9 L552.0 230.6 L554.7 226.5 L553.4 222.4 L550.6 216.9Z" fill="#8B008B"/>
<path d="M591.9 244.4 L593.9 241.6 L598.7 240.2 L602.8 239.6 L607.0 237.5 L611.1 238.9 L615.2 239.6 L619.1 240.9 L619.1 255.4 L616.6 256.7 L613.8 252.6 L607.0 250.5 L601.5 249.9 L596.0 247.1Z" fill="#8B008B"/>
<path d="M580.9 210.0 L619.1 210.0 L619.1 236.8 L615.2 235.4 L611.1 236.8 L607.0 235.4 L604.2 232.0 L600.1 230.6 L596.0 229.2 L591.9 227.9 L589.1 223.7 L586.4 219.6 L583.6 215.5 L581.5 212.1Z" fill="#DDA0DD"/>
<path d="M524.5 212.7 L530.0 210.7 L535.5 212.7 L541.0 215.5 L546.5 218.2 L550.6 221.7 L551.3 225.1 L548.6 226.5 L545.1 223.7 L541.0 221.7 L536.9 220.3 L532.7 219.6 L528.6 218.2 L525.9 215.5Z" fill="#DDA0DD"/>
<path d="M567.1 215.5 L570.5 214.1 L572.6 217.6 L569.9 221.7 L567.4 219.6Z" fill="#DDA0DD"/>
<path d="M578.4 229.0 L580.2 230.6 L578.4 232.3 L576.7 230.6Z" fill="#8B008B"/>
<path d="M519.0 235.4 L523.1 240.2 L527.2 245.7 L532.7 249.9 L538.2 252.6 L541.7 248.5 L543.7 243.7 L549.2 242.3 L554.7 243.7 L558.9 245.7 L564.4 248.5 L569.9 251.2 L574.0 252.6 L579.5 255.4 L583.6 258.1 L587.7 262.2 L593.2 266.4 L598.7 270.5 L604.2 274.6 L609.7 278.7 L615.2 282.9 L619.1 284.9 L619.1 290.0 L596.0 290.0 L591.9 287.0 L589.1 281.5 L586.4 287.0 L580.9 289.0 L574.0 290.0 L519.0 290.0Z" fill="#990000"/>
<path d="M519.0 255.4 L521.7 256.7 L524.5 262.2 L527.2 267.7 L531.4 270.5 L532.7 265.0 L534.8 262.9 L532.7 271.9 L530.0 274.6 L525.9 273.9 L521.7 273.2 L519.0 273.9Z" fill="#8B008B"/>
<path d="M519.0 256.0 L520.6 257.4 L521.1 265.0 L519.0 266.4Z" fill="#BA55D3"/>
<path d="M532.7 274.6 L534.8 265.0 L536.9 270.5 L539.6 276.0 L538.2 280.1 L534.1 284.2 L530.0 287.0 L524.5 289.0 L519.0 290.0 L519.0 280.1 L524.5 278.7 L530.0 277.4Z" fill="#CC0000"/>
<path d="M556.1 274.6 L560.2 272.5 L567.1 272.5 L572.6 274.6 L573.3 278.7 L571.2 282.2 L565.7 282.9 L560.2 282.2 L556.8 278.7Z" fill="#8B008B"/>
<path d="M573.3 271.9 L578.1 268.4 L583.6 268.4 L587.7 271.2 L589.1 276.0 L587.7 280.8 L583.6 282.9 L578.1 283.5 L574.0 280.1Z" fill="#8B008B"/>
<path d="M538.2 286.3 L542.4 284.9 L546.5 287.0 L548.6 290.0 L536.9 290.0Z" fill="#8B008B"/>
<path d="M596.0 287.0 L600.1 286.3 L602.8 290.0 L596.7 290.0Z" fill="#8B008B"/>
</g>
<g clip-path="url(#c15)">
<rect x="119" y="290" width="100" height="80" fill="#8B008B"/>
<path d="M195.3 290.0 L219.1 290.0 L219.1 327.8 L215.2 323.7 L211.4 318.2 L209.0 312.0 L208.1 305.1 L204.2 299.6 L199.4 294.8Z" fill="#BA55D3"/>
<path d="M207.0 290.0 L219.1 290.0 L219.1 303.7 L215.2 299.6 L211.1 294.8Z" fill="#DDA0DD"/>
<path d="M127.2 306.5 L130.0 307.2 L135.5 313.4 L139.6 318.9 L136.9 320.9 L132.7 318.9 L128.6 313.4Z" fill="#BA55D3"/>
<path d="M145.1 360.1 L148.6 356.7 L153.4 357.4 L154.7 361.5 L152.0 365.3 L147.2 364.9Z" fill="#BA55D3"/>
<path d="M119.0 367.7 L127.2 367.0 L132.7 368.4 L135.5 370.0 L119.0 370.0Z" fill="#BA55D3"/>
<path d="M152.0 290.0 L195.3 290.0 L196.0 295.5 L193.2 302.4 L191.9 309.2 L196.0 312.0 L200.1 317.5 L202.8 323.0 L207.0 328.5 L213.8 329.9 L219.1 331.2 L219.1 370.0 L176.7 370.0 L179.5 364.2 L178.8 356.0 L178.1 349.1 L171.9 350.5 L167.1 354.6 L163.0 359.4 L159.5 354.6 L159.5 350.5 L164.4 345.0 L167.1 339.5 L166.4 331.2 L167.8 324.4 L166.4 317.5 L161.6 313.4 L153.4 313.4 L154.1 306.5 L156.1 301.0 L154.7 295.5Z" fill="#990000"/>
<path d="M173.3 330.5 L177.4 327.8 L181.5 329.9 L182.5 336.7 L181.5 343.6 L177.4 347.0 L173.3 344.3 L171.9 338.1Z" fill="#8B008B"/>
<path d="M136.9 294.1 L140.3 292.1 L143.1 293.4 L144.4 299.6 L143.7 306.5 L139.6 307.2 L136.9 303.7 L136.2 298.2Z" fill="#990000"/>
<path d="M145.1 334.0 L147.9 331.2 L151.3 334.7 L152.0 337.4 L149.2 341.5 L145.8 338.1Z" fill="#990000"/>
<path d="M163.7 291.4 L167.1 290.0 L176.7 290.0 L180.2 294.1 L180.9 301.0 L178.1 306.5 L174.0 303.7 L168.5 302.4 L164.4 298.2Z" fill="#CC0000"/>
<path d="M176.0 308.6 L180.2 307.9 L182.9 312.0 L181.5 316.8 L177.4 316.1 L175.6 312.0Z" fill="#CC0000"/>
<path d="M186.4 320.2 L191.9 318.9 L197.4 320.9 L201.5 324.4 L207.0 329.2 L213.8 330.5 L219.1 331.9 L219.1 370.0 L185.0 370.0 L184.3 361.5 L185.0 354.6 L187.7 350.5 L191.9 349.1 L196.0 350.5 L198.7 345.0 L197.4 339.5 L193.2 342.2 L189.1 339.5 L186.4 336.7 L185.0 331.2 L185.7 324.4Z" fill="#CC0000"/>
<path d="M189.8 323.7 L193.2 323.0 L194.6 329.9 L192.5 336.7 L190.5 332.6 L189.4 328.5Z" fill="#FF0000"/>
<path d="M205.6 336.7 L209.7 334.0 L213.8 335.4 L213.8 347.7 L211.1 351.9 L207.0 350.5 L204.9 345.0Z" fill="#FF0000"/>
<path d="M196.0 358.7 L201.5 356.0 L204.9 361.5 L207.0 370.0 L197.4 370.0 L195.3 364.2Z" fill="#FF0000"/>
</g>
<g clip-path="url(#c16)">
<rect x="219" y="290" width="100" height="80" fill="#DDA0DD"/>
<path d="M238.9 290.0 L243.7 290.7 L246.5 294.8 L244.4 299.6 L241.0 299.6 L239.3 295.5Z" fill="#D8BFD8"/>
<path d="M239.6 312.0 L241.0 306.5 L244.4 303.1 L250.6 303.7 L256.1 307.9 L260.2 314.1 L263.0 320.9 L266.4 327.1 L269.2 334.0 L271.9 339.5 L276.7 343.6 L283.6 346.4 L290.5 349.1 L297.4 351.2 L304.2 349.8 L309.7 347.7 L313.2 349.8 L313.2 356.0 L315.2 361.5 L319.1 364.2 L319.1 370.0 L274.0 370.0 L269.9 367.0 L265.7 362.9 L260.2 357.4 L256.1 351.9 L253.4 345.0 L251.3 338.1 L248.6 331.2 L243.7 325.7 L241.0 318.9Z" fill="#D8BFD8"/>
<path d="M219.0 316.8 L221.7 321.6 L225.9 326.4 L230.0 325.1 L234.1 325.7 L236.9 331.2 L238.2 338.1 L239.6 345.0 L241.0 349.1 L246.5 349.8 L252.0 351.9 L256.1 356.0 L257.5 360.1 L254.1 364.2 L249.9 367.0 L246.5 370.0 L219.0 370.0Z" fill="#BA55D3"/>
<path d="M238.9 350.5 L241.0 349.1 L243.1 354.6 L242.4 360.1 L238.2 360.8 L236.9 357.4Z" fill="#DDA0DD"/>
<path d="M219.0 334.0 L221.7 339.5 L225.9 344.3 L230.7 346.4 L232.7 350.5 L233.4 357.4 L236.9 362.9 L241.0 364.9 L245.1 367.0 L248.6 370.0 L219.0 370.0Z" fill="#8B008B"/>
<path d="M219.0 342.9 L223.1 345.0 L227.9 347.7 L230.7 351.9 L231.4 358.7 L234.1 363.5 L238.2 366.3 L242.4 368.4 L244.4 370.0 L219.0 370.0Z" fill="#990000"/>
<path d="M219.0 346.4 L222.4 347.7 L225.9 349.8 L228.6 353.9 L229.3 360.1 L232.1 364.9 L236.2 368.4 L239.6 370.0 L219.0 370.0Z" fill="#CC0000"/>
<path d="M219.0 350.5 L222.4 351.2 L225.2 354.6 L226.6 360.1 L228.6 364.9 L232.1 368.4 L234.1 370.0 L219.0 370.0Z" fill="#FF0000"/>
</g>
<g clip-path="url(#c17)">
<rect x="319" y="290" width="100" height="80" fill="#DDA0DD"/>
</g>
<g clip-path="url(#c18)">
<rect x="419" y="290" width="100" height="80" fill="#DDA0DD"/>
<path d="M425.9 290.0 L519.1 290.0 L519.1 356.0 L515.2 353.2 L509.7 349.1 L504.2 345.0 L498.7 342.2 L493.2 339.5 L487.7 335.4 L483.6 332.6 L479.5 329.9 L475.4 327.1 L471.2 323.0 L465.7 318.9 L460.2 314.7 L454.7 312.7 L449.2 310.6 L443.7 306.5 L439.6 302.4 L435.5 298.2 L431.4 294.1Z" fill="#BA55D3"/>
<path d="M434.1 290.0 L519.1 290.0 L519.1 350.5 L515.2 347.7 L511.1 345.0 L507.0 340.9 L501.5 335.4 L497.4 331.2 L493.9 329.9 L494.6 324.4 L496.7 318.9 L496.0 313.4 L493.9 306.5 L493.2 299.6 L490.5 295.5 L486.4 294.8 L484.3 299.6 L483.6 306.5 L482.2 310.6 L479.5 307.9 L476.7 303.7 L472.6 301.0 L467.1 298.2 L463.0 298.2 L460.2 301.0 L459.5 305.1 L460.2 310.6 L457.5 310.6 L453.4 307.9 L449.2 303.7 L443.7 298.2 L439.6 294.1Z" fill="#8B008B"/>
<path d="M466.4 304.4 L469.9 303.7 L471.9 307.2 L471.9 312.7 L469.2 315.4 L466.4 312.0 L465.5 307.9Z" fill="#DDA0DD"/>
<path d="M458.9 290.0 L519.1 290.0 L519.1 343.6 L515.2 342.2 L512.5 339.5 L508.3 338.1 L507.0 331.2 L506.3 324.4 L504.2 317.5 L500.1 313.4 L498.7 306.5 L496.0 301.0 L493.2 296.9 L490.5 294.1 L485.0 293.4 L479.5 296.2 L474.0 296.9 L468.5 295.5 L463.0 292.7Z" fill="#990000"/>
<path d="M441.0 291.4 L443.7 290.0 L445.1 294.1 L443.1 296.2Z" fill="#990000"/>
<path d="M461.6 290.0 L479.5 290.0 L478.1 293.4 L474.0 295.5 L468.5 294.1 L464.4 292.1Z" fill="#CC0000"/>
<path d="M500.1 290.0 L519.1 290.0 L519.1 306.5 L515.2 305.1 L511.1 306.5 L507.0 310.6 L502.8 315.4 L500.1 312.0 L499.0 303.7 L499.4 295.5Z" fill="#CC0000"/>
<path d="M515.2 327.1 L519.1 326.4 L519.1 339.5 L516.6 338.1 L515.2 334.0Z" fill="#CC0000"/>
<path d="M456.8 342.2 L463.0 341.5 L474.0 345.0 L482.2 347.7 L482.2 350.2 L474.0 348.4 L464.4 346.4 L457.5 345.0Z" fill="#626662"/>
<path d="M427.2 315.8 L436.9 316.8 L444.4 316.8 L444.4 319.6 L436.9 319.1 L427.2 317.5Z" fill="#626662"/>
</g>
<g clip-path="url(#c19)">
<rect x="519" y="290" width="100" height="80" fill="#CC0000"/>
<path d="M532.1 290.0 L619.1 290.0 L619.1 298.2 L615.2 296.9 L611.1 298.2 L608.3 303.7 L607.0 309.2 L601.5 312.0 L597.4 315.4 L591.9 317.5 L586.4 316.1 L580.9 317.5 L576.7 315.4 L573.3 310.6 L570.5 305.1 L567.1 301.7 L565.0 303.7 L564.4 309.2 L560.2 310.6 L556.1 307.9 L554.1 303.1 L549.9 300.3 L544.4 301.7 L541.0 304.4 L536.9 303.1 L534.1 296.9Z" fill="#990000"/>
<path d="M590.5 321.6 L596.0 319.6 L602.8 320.9 L607.0 324.4 L607.0 331.2 L602.8 335.4 L597.4 334.0 L593.2 329.9 L590.5 325.7Z" fill="#990000"/>
<path d="M519.0 326.4 L524.5 325.7 L527.9 329.2 L525.9 335.4 L519.0 336.7Z" fill="#990000"/>
<path d="M549.2 336.7 L554.7 335.4 L558.9 337.4 L558.9 349.1 L557.5 354.6 L552.0 354.6 L549.2 349.1Z" fill="#990000"/>
<path d="M580.2 340.9 L585.0 338.8 L589.1 342.2 L590.5 349.1 L587.7 354.6 L582.2 353.9 L579.5 347.7Z" fill="#990000"/>
<path d="M527.2 353.2 L534.1 350.5 L541.0 351.9 L546.5 354.6 L552.0 356.0 L556.8 354.6 L557.5 361.5 L553.4 364.2 L546.5 362.2 L539.6 361.5 L532.7 360.1 L528.6 358.7Z" fill="#990000"/>
<path d="M613.8 303.7 L619.1 302.4 L619.1 323.0 L615.2 322.3 L612.5 317.5 L611.8 310.6Z" fill="#990000"/>
<path d="M574.0 356.0 L579.5 354.6 L587.7 356.0 L591.9 360.1 L590.5 370.0 L583.6 370.0 L579.5 364.2 L575.4 360.1Z" fill="#990000"/>
<path d="M521.7 296.2 L525.9 293.4 L530.0 296.9 L530.7 303.7 L527.9 310.6 L523.8 312.0 L520.4 306.5 L520.4 301.0Z" fill="#FF0000"/>
<path d="M539.6 309.2 L543.7 306.5 L547.2 309.2 L546.5 317.5 L543.1 322.3 L538.9 320.9 L538.2 314.7Z" fill="#FF0000"/>
<path d="M555.4 317.5 L560.2 312.7 L565.7 312.7 L569.9 317.5 L571.2 324.4 L576.7 324.4 L582.2 324.4 L585.0 328.5 L583.6 334.0 L579.5 338.1 L576.7 345.0 L574.0 350.5 L569.9 350.5 L566.4 345.0 L565.7 338.1 L561.6 334.0 L558.2 329.9 L555.4 324.4Z" fill="#FF0000"/>
<path d="M594.6 338.1 L598.7 336.7 L601.5 342.2 L607.0 345.0 L612.5 347.7 L619.1 349.1 L619.1 356.0 L612.5 357.4 L607.0 354.6 L602.8 351.9 L598.7 353.2 L594.6 357.4 L591.9 362.9 L589.1 367.0 L587.7 361.5 L590.5 354.6 L593.9 347.7Z" fill="#FF0000"/>
<path d="M608.3 301.0 L612.5 297.6 L616.6 299.6 L618.0 306.5 L615.2 312.0 L611.1 314.7 L607.7 310.6 L607.0 305.1Z" fill="#FF0000"/>
<path d="M593.2 358.7 L597.4 357.4 L601.5 360.1 L602.8 364.2 L607.0 364.9 L612.5 361.5 L615.2 356.0 L619.1 353.2 L619.1 370.0 L590.5 370.0 L591.9 364.2Z" fill="#FF5500"/>
<path d="M612.5 359.4 L619.1 352.5 L619.1 367.0 L615.2 367.7 L612.2 363.5Z" fill="#F08228"/>
<path d="M538.2 290.0 L547.9 290.0 L547.2 294.1 L543.1 295.5 L539.6 292.7Z" fill="#8B008B"/>
<path d="M594.6 290.0 L602.2 290.0 L600.8 295.5 L598.0 301.7 L596.0 296.9Z" fill="#8B008B"/>
<path d="M519.0 341.5 L523.1 340.9 L524.5 346.4 L523.8 353.2 L519.0 354.6Z" fill="#8B008B"/>
<path d="M519.0 354.6 L523.8 353.9 L527.2 358.7 L532.7 361.5 L539.6 362.2 L546.5 362.9 L553.4 364.9 L556.8 361.5 L557.5 349.1 L560.2 348.4 L564.4 351.9 L569.9 356.0 L576.7 358.7 L582.2 362.9 L585.0 370.0 L519.0 370.0Z" fill="#8B008B"/>
<path d="M519.0 356.0 L523.1 357.4 L525.9 361.5 L528.6 364.9 L532.7 366.3 L536.9 364.9 L541.0 363.5 L545.1 364.9 L546.5 370.0 L519.0 370.0Z" fill="#BA55D3"/>
<path d="M560.9 358.7 L563.0 354.6 L567.1 356.0 L571.2 359.4 L576.7 362.9 L580.9 367.0 L581.5 370.0 L560.2 370.0Z" fill="#BA55D3"/>
<path d="M519.0 363.5 L523.1 364.9 L525.9 368.4 L527.2 370.0 L519.0 370.0Z" fill="#DDA0DD"/>
</g>
<g clip-path="url(#c20)">
<rect x="119" y="370" width="100" height="80" fill="#DDA0DD"/>
<path d="M119.0 370.0 L219.1 370.0 L219.1 450.0 L204.2 450.0 L201.5 449.0 L196.0 447.0 L190.5 444.2 L183.6 440.1 L179.5 436.0 L174.0 431.2 L167.1 426.4 L163.0 423.6 L164.4 417.4 L167.1 411.2 L172.6 406.4 L161.6 407.1 L153.4 406.0 L146.5 404.4 L139.6 402.3 L132.7 399.6 L124.5 394.1 L120.9 389.2 L119.0 387.9Z" fill="#BA55D3"/>
<path d="M124.5 450.0 L127.2 444.2 L130.7 442.2 L134.1 445.6 L136.2 450.0Z" fill="#BA55D3"/>
<path d="M137.6 370.0 L219.1 370.0 L219.1 450.0 L210.4 450.0 L209.7 444.2 L207.0 440.1 L202.8 436.0 L198.7 431.9 L196.0 427.7 L193.2 424.3 L189.1 423.6 L185.0 426.4 L180.9 427.7 L176.7 425.0 L176.0 420.9 L179.5 416.7 L183.6 412.6 L185.7 407.1 L182.9 401.6 L180.2 397.5 L179.5 390.6 L178.1 383.7 L174.0 383.1 L169.9 385.1 L167.1 389.2 L163.0 392.7 L158.9 389.2 L156.1 392.0 L154.1 396.1 L149.2 395.4 L143.7 393.4 L138.2 392.7 L134.1 389.2 L135.5 383.7 L138.2 378.2 L138.9 374.1Z" fill="#8B008B"/>
<path d="M157.5 374.8 L163.0 373.4 L165.0 378.2 L161.6 383.1 L157.5 387.9 L155.0 383.7 L156.1 378.2Z" fill="#BA55D3"/>
<path d="M174.0 370.0 L219.1 370.0 L219.1 421.5 L215.2 418.1 L211.1 415.4 L207.0 412.6 L202.8 409.9 L198.7 407.8 L194.6 407.1 L191.9 403.0 L190.5 397.5 L187.7 393.4 L186.4 387.9 L183.6 382.4 L179.5 378.2 L176.7 374.1Z" fill="#990000"/>
<path d="M196.7 370.0 L219.1 370.0 L219.1 416.7 L213.8 412.6 L208.3 409.2 L202.8 405.1 L199.4 400.2 L198.0 390.6 L197.4 381.0Z" fill="#CC0000"/>
<path d="M197.4 386.5 L202.8 385.8 L208.3 387.9 L207.7 394.1 L202.8 396.8 L198.0 396.1Z" fill="#990000"/>
<path d="M200.1 370.0 L209.7 370.0 L210.4 374.1 L207.0 377.6 L202.8 375.5Z" fill="#FF0000"/>
<path d="M212.5 378.2 L219.1 377.6 L219.1 386.5 L215.2 385.1Z" fill="#FF0000"/>
<path d="M209.7 404.4 L215.2 403.7 L219.1 405.7 L219.1 411.2 L213.8 409.9Z" fill="#FF0000"/>
</g>
<g clip-path="url(#c21)">
<rect x="219" y="370" width="100" height="80" fill="#DDA0DD"/>
<path d="M273.3 370.0 L319.1 370.0 L319.1 404.4 L313.8 402.3 L308.3 398.2 L303.5 394.1 L300.1 390.6 L298.0 387.9 L293.2 385.8 L287.7 382.4 L282.2 377.6 L277.4 373.4Z" fill="#D8BFD8"/>
<path d="M283.6 376.2 L293.2 374.1 L301.5 374.8 L305.6 378.2 L306.3 385.1 L304.2 390.6 L300.1 390.6 L298.0 387.9 L293.2 385.8 L287.7 382.4Z" fill="#D8BFD8"/>
<path d="M245.8 370.0 L250.6 370.0 L252.7 375.5 L256.1 379.6 L261.6 382.4 L268.5 383.1 L274.0 382.4 L275.4 387.9 L276.7 393.4 L279.5 397.5 L285.0 398.9 L286.4 392.0 L288.4 387.2 L291.9 386.5 L292.5 394.7 L293.2 404.4 L296.0 408.5 L300.1 409.9 L304.2 414.0 L308.3 417.4 L312.5 420.9 L316.6 423.6 L319.1 425.0 L319.1 450.0 L219.0 450.0 L219.0 370.0Z" fill="#BA55D3"/>
<path d="M239.6 370.0 L247.9 370.0 L249.9 375.5 L252.0 381.0 L256.1 385.1 L261.6 387.9 L267.1 388.6 L271.2 390.6 L272.6 397.5 L274.0 403.0 L278.1 405.7 L283.6 407.1 L289.1 411.2 L293.2 414.0 L297.4 415.4 L301.5 416.7 L305.6 420.9 L309.7 425.0 L312.5 430.5 L313.8 434.6 L319.1 436.0 L319.1 450.0 L219.0 450.0 L219.0 370.0Z" fill="#8B008B"/>
<path d="M221.1 450.0 L223.8 444.2 L225.9 440.1 L227.9 444.2 L230.0 450.0Z" fill="#BA55D3"/>
<path d="M243.1 450.0 L244.4 444.2 L245.8 440.1 L247.9 444.9 L249.2 450.0Z" fill="#BA55D3"/>
<path d="M289.1 431.6 L293.9 428.8 L294.3 433.9Z" fill="#BA55D3"/>
<path d="M219.0 370.0 L244.4 370.0 L243.7 376.9 L240.3 383.1 L241.7 389.2 L244.4 394.7 L247.9 399.6 L252.0 402.3 L255.4 400.9 L256.8 396.1 L258.9 392.0 L263.0 389.9 L267.1 390.6 L269.9 394.7 L271.2 401.6 L271.9 407.8 L276.7 409.9 L280.9 412.6 L282.2 418.1 L282.9 425.0 L283.6 430.5 L287.7 434.6 L293.2 438.7 L298.7 440.1 L304.2 441.5 L309.7 444.2 L315.2 445.6 L319.1 444.9 L319.1 450.0 L279.5 450.0 L276.7 444.2 L274.0 440.1 L271.2 437.4 L267.1 440.1 L264.4 444.2 L261.6 450.0 L258.9 450.0 L255.4 445.6 L254.1 441.5 L253.4 436.0 L249.2 431.9 L243.7 429.1 L238.2 426.4 L232.7 425.0 L227.2 425.0 L223.1 424.3 L219.0 421.5Z" fill="#990000"/>
<path d="M219.0 370.0 L241.7 370.0 L241.0 375.5 L236.9 381.0 L232.7 383.7 L234.1 388.6 L236.9 393.4 L239.6 398.9 L235.5 404.4 L232.7 407.8 L236.9 407.1 L242.4 405.1 L247.9 405.7 L253.4 407.8 L256.1 407.1 L257.5 400.2 L258.9 395.4 L261.6 392.7 L265.0 392.7 L267.1 396.1 L268.5 403.0 L266.4 409.9 L265.0 416.7 L264.4 425.0 L260.2 429.1 L256.1 431.9 L252.0 429.1 L247.9 425.0 L242.4 422.2 L236.9 420.9 L231.4 420.2 L225.9 419.5 L221.7 418.1 L219.0 416.7Z" fill="#CC0000"/>
<path d="M274.7 436.7 L278.1 433.9 L280.9 437.4 L283.6 441.5 L280.9 444.2 L277.4 442.2Z" fill="#CC0000"/>
<path d="M219.0 398.2 L223.1 396.1 L230.0 395.4 L235.5 397.5 L237.6 400.9 L235.5 405.1 L231.4 407.8 L225.9 407.8 L221.7 405.7 L219.0 403.7Z" fill="#990000"/>
<path d="M223.8 400.9 L227.2 399.6 L230.7 400.9 L230.0 403.0 L226.6 404.1 L223.8 403.0Z" fill="#8B008B"/>
<path d="M219.0 382.4 L224.5 381.7 L229.3 385.1 L230.7 389.2 L227.2 392.7 L221.7 393.4 L219.0 392.7Z" fill="#FF0000"/>
<path d="M219.0 409.9 L224.5 411.2 L230.0 412.6 L234.1 409.9 L238.2 406.4 L243.7 405.7 L249.2 407.1 L254.7 409.9 L256.8 414.0 L256.1 420.9 L253.4 424.3 L249.9 422.2 L246.5 418.1 L241.0 416.0 L235.5 416.0 L230.0 416.0 L224.5 414.7 L219.0 413.3Z" fill="#FF0000"/>
</g>
<g clip-path="url(#c22)">
<rect x="319" y="370" width="100" height="80" fill="#DDA0DD"/>
<path d="M319.0 381.0 L323.1 383.1 L328.6 386.5 L336.9 385.1 L337.6 396.1 L339.6 401.6 L342.4 407.1 L338.2 412.6 L332.7 417.4 L327.2 416.0 L323.1 414.0 L319.0 413.3Z" fill="#D8BFD8"/>
<path d="M345.8 401.6 L349.2 398.2 L354.7 397.5 L360.2 398.9 L365.7 399.6 L371.2 399.6 L376.7 398.2 L378.1 403.0 L374.0 406.4 L367.1 408.5 L360.2 407.8 L353.4 407.1 L347.9 407.1Z" fill="#D8BFD8"/>
<path d="M389.1 444.9 L396.0 442.9 L402.8 444.2 L406.3 450.0 L387.7 450.0Z" fill="#D8BFD8"/>
<path d="M349.2 418.1 L353.4 415.4 L360.2 414.0 L367.1 414.0 L374.0 414.0 L379.5 411.9 L380.9 415.4 L379.5 420.9 L374.0 424.3 L367.1 426.4 L360.2 427.0 L354.7 425.0 L351.3 422.2Z" fill="#BA55D3"/>
<path d="M355.4 418.8 L361.6 416.7 L367.8 418.1 L368.5 420.2 L363.0 422.2 L358.2 421.5Z" fill="#8B008B"/>
<path d="M319.0 427.0 L323.1 429.1 L327.2 433.2 L332.7 437.4 L336.2 441.5 L339.6 447.0 L343.1 450.0 L319.0 450.0Z" fill="#BA55D3"/>
<path d="M319.0 435.3 L323.1 436.7 L327.2 440.1 L331.4 444.9 L334.1 450.0 L319.0 450.0Z" fill="#8B008B"/>
<path d="M319.0 443.5 L322.4 444.9 L325.2 448.4 L325.9 450.0 L319.0 450.0Z" fill="#990000"/>
</g>
<g clip-path="url(#c23)">
<rect x="419" y="370" width="100" height="80" fill="#DDA0DD"/>
</g>
<g clip-path="url(#c24)">
<rect x="519" y="370" width="100" height="80" fill="#DDA0DD"/>
<path d="M542.4 370.0 L587.7 370.0 L585.0 375.5 L580.9 379.6 L576.7 378.2 L572.6 380.3 L571.9 375.5 L568.5 374.1 L564.4 378.2 L560.2 381.7 L554.7 381.0 L550.6 378.2 L546.5 374.1Z" fill="#BA55D3"/>
<path d="M583.6 370.0 L619.1 370.0 L619.1 450.0 L590.5 450.0 L591.9 444.2 L593.9 438.7 L598.7 438.7 L602.8 441.5 L604.9 437.4 L603.5 431.9 L600.1 427.7 L598.7 422.2 L599.4 416.7 L601.5 412.6 L602.8 407.1 L601.5 401.6 L598.7 396.1 L596.0 390.6 L591.9 385.1 L587.7 379.6 L585.0 375.5Z" fill="#BA55D3"/>
<path d="M581.5 402.3 L586.4 400.2 L591.9 400.9 L594.3 405.7 L593.2 410.5 L589.1 411.9 L583.6 410.5 L581.1 406.4Z" fill="#BA55D3"/>
<path d="M546.5 370.0 L561.6 370.0 L560.2 373.4 L556.1 375.5 L550.6 374.1 L547.9 372.1Z" fill="#8B008B"/>
<path d="M583.6 370.0 L619.1 370.0 L619.1 450.0 L613.8 450.0 L612.5 444.2 L613.2 436.0 L612.5 427.7 L615.2 422.2 L613.8 416.7 L609.7 414.0 L607.0 408.5 L604.9 403.0 L603.5 397.5 L601.5 392.0 L597.4 387.9 L593.2 383.7 L590.5 379.6 L587.7 375.5 L585.7 372.1Z" fill="#8B008B"/>
<path d="M590.5 370.0 L619.1 370.0 L619.1 393.4 L615.2 394.1 L612.5 396.1 L611.1 390.6 L607.0 387.9 L601.5 385.1 L596.0 381.7 L591.9 378.2 L589.8 374.1Z" fill="#990000"/>
<path d="M611.1 390.6 L613.8 394.7 L612.7 407.1 L611.4 407.1Z" fill="#990000"/>
<path d="M590.5 370.0 L619.1 370.0 L619.1 380.3 L615.2 381.7 L609.7 380.7 L604.2 378.9 L598.7 376.9 L594.6 374.4 L591.9 372.1Z" fill="#CC0000"/>
<path d="M591.2 370.0 L619.1 370.0 L619.1 375.8 L613.8 377.1 L608.3 377.1 L602.8 376.3 L597.4 374.1 L593.2 372.1Z" fill="#FF0000"/>
<path d="M596.0 370.0 L618.0 370.0 L615.2 372.1 L609.7 373.8 L604.2 374.4 L599.4 372.7Z" fill="#FF5500"/>
<path d="M553.4 370.0 L556.8 370.0 L555.0 371.6Z" fill="#CC0000"/>
</g>
<g clip-path="url(#c25)">
<rect x="119" y="450" width="100" height="80" fill="#DDA0DD"/>
<path d="M119.0 450.0 L134.1 450.0 L131.4 454.1 L136.9 455.5 L143.7 456.9 L145.8 462.4 L145.1 465.4 L119.0 465.4Z" fill="#BA55D3"/>
<path d="M157.5 461.0 L160.2 459.6 L164.4 463.7 L165.0 465.4 L158.9 465.4Z" fill="#BA55D3"/>
<path d="M202.8 450.0 L219.1 450.0 L219.1 458.2 L215.2 456.9 L211.1 454.1 L207.0 452.1Z" fill="#BA55D3"/>
<path d="M211.1 450.0 L219.1 450.0 L219.1 453.4 L215.2 452.7Z" fill="#8B008B"/>
</g>
<g clip-path="url(#c26)">
<rect x="219" y="450" width="100" height="80" fill="#DDA0DD"/>
<path d="M219.0 450.0 L319.1 450.0 L319.1 530.0 L315.2 530.0 L313.8 524.2 L312.5 518.7 L311.1 513.2 L308.3 507.7 L304.2 505.0 L298.7 504.3 L293.2 504.3 L287.7 505.0 L282.2 505.0 L278.1 502.9 L279.5 498.1 L278.1 494.0 L274.0 491.2 L269.9 488.5 L265.7 487.1 L261.6 484.4 L258.9 478.9 L256.8 473.4 L254.7 465.4 L219.0 465.4Z" fill="#BA55D3"/>
<path d="M249.9 450.0 L319.1 450.0 L319.1 514.6 L315.2 510.5 L312.5 505.0 L308.3 498.1 L304.2 495.4 L298.7 491.2 L293.2 488.5 L289.1 483.0 L286.4 477.5 L283.6 470.6 L279.5 466.5 L274.0 463.7 L268.5 461.0 L264.4 459.6 L258.9 461.0 L253.4 460.3 L250.6 455.5Z" fill="#8B008B"/>
<path d="M229.3 450.0 L241.7 450.0 L239.6 453.4 L235.5 455.2 L231.4 453.4Z" fill="#8B008B"/>
<path d="M279.5 450.0 L319.1 450.0 L319.1 463.1 L315.2 461.7 L311.1 458.2 L307.0 454.8 L301.5 454.8 L296.0 453.4 L290.5 452.1 L283.6 451.1Z" fill="#990000"/>
<path d="M303.5 482.3 L308.3 480.0 L315.2 480.2 L319.1 480.9 L319.1 495.4 L315.2 494.0 L311.1 491.2 L307.0 488.5 L304.2 485.7Z" fill="#990000"/>
</g>
<g clip-path="url(#c27)">
<rect x="319" y="450" width="100" height="80" fill="#BA55D3"/>
<path d="M343.1 450.0 L419.1 450.0 L419.1 476.8 L415.2 475.4 L408.3 473.4 L401.5 470.6 L396.0 467.9 L387.7 465.8 L382.2 466.5 L378.1 467.9 L374.0 465.8 L371.2 462.4 L367.1 458.2 L361.6 455.5 L354.7 454.1 L347.9 452.1Z" fill="#DDA0DD"/>
<path d="M386.4 450.0 L391.9 450.0 L419.1 460.3 L419.1 465.1 L413.8 463.1 L408.3 461.7 L402.8 460.3 L397.4 458.2 L391.9 456.2 L387.7 453.4Z" fill="#D8BFD8"/>
<path d="M408.3 514.6 L412.5 510.5 L419.1 509.1 L419.1 530.0 L413.8 530.0 L409.7 524.2 L408.1 518.7Z" fill="#DDA0DD"/>
<path d="M326.6 450.0 L335.5 450.0 L339.6 455.5 L341.0 461.0 L346.5 463.7 L353.4 467.9 L360.2 472.0 L365.7 476.1 L371.2 478.2 L376.7 478.9 L379.5 476.8 L383.6 477.5 L385.0 481.6 L384.3 487.1 L385.0 494.0 L387.7 500.9 L389.1 507.7 L391.9 514.6 L393.2 521.5 L396.0 525.6 L398.7 530.0 L319.0 530.0 L319.0 450.0Z" fill="#8B008B"/>
<path d="M391.9 489.9 L394.6 487.8 L394.6 494.7Z" fill="#8B008B"/>
<path d="M319.0 450.0 L329.3 450.0 L332.1 455.5 L334.1 461.0 L336.9 466.5 L342.4 470.6 L346.5 475.4 L352.0 479.6 L358.9 483.0 L364.4 485.7 L369.2 489.2 L372.6 494.0 L375.4 499.5 L379.5 505.0 L383.6 510.5 L385.7 516.0 L386.4 530.0 L334.1 530.0 L334.8 524.2 L335.5 516.0 L336.2 507.7 L335.5 500.9 L331.4 498.1 L325.9 497.4 L319.0 497.4 L319.0 476.1 L321.7 475.4 L321.7 463.7 L319.0 463.1Z" fill="#990000"/>
<path d="M319.0 503.6 L323.1 505.0 L325.2 509.1 L323.8 516.0 L321.7 521.5 L319.0 523.5Z" fill="#BA55D3"/>
<path d="M319.0 488.5 L323.1 487.1 L327.2 486.0 L330.7 487.8 L332.7 490.5 L328.6 493.3 L323.1 493.7 L319.0 491.9Z" fill="#CC0000"/>
<path d="M339.6 491.2 L343.7 489.2 L349.2 489.2 L352.7 492.6 L352.0 497.4 L348.6 500.9 L346.5 502.9 L343.1 500.2 L339.6 496.7Z" fill="#CC0000"/>
<path d="M358.9 502.9 L364.4 502.2 L366.4 507.7 L368.5 514.6 L372.6 518.0 L377.4 518.7 L375.4 521.5 L369.9 524.2 L364.4 527.7 L358.9 526.3 L353.4 527.0 L346.5 528.4 L342.4 524.9 L343.7 520.1 L347.9 517.4 L353.4 516.0 L356.1 510.5Z" fill="#CC0000"/>
</g>
<g clip-path="url(#c28)">
<rect x="419" y="450" width="100" height="80" fill="#DDA0DD"/>
<path d="M419.0 482.3 L424.5 483.0 L432.7 484.4 L441.0 485.1 L449.2 487.8 L456.1 491.9 L461.6 496.7 L463.7 501.5 L460.2 503.6 L453.4 502.9 L446.5 501.5 L439.6 500.9 L434.1 502.2 L428.6 506.4 L424.5 509.8 L419.0 509.1Z" fill="#BA55D3"/>
<path d="M486.4 474.1 L489.8 474.7 L494.6 479.6 L499.4 485.7 L502.2 490.5 L498.7 489.9 L493.2 486.4 L488.4 482.3 L486.4 478.2Z" fill="#BA55D3"/>
<path d="M419.0 463.7 L421.7 465.1 L422.4 467.9 L419.0 469.9Z" fill="#D8BFD8"/>
<path d="M433.4 471.3 L436.9 469.2 L442.4 470.6 L444.4 473.4 L439.6 474.7 L434.8 473.6Z" fill="#D8BFD8"/>
<path d="M466.4 489.9 L472.6 491.2 L479.5 495.4 L487.7 500.2 L494.6 503.6 L497.4 507.7 L494.6 511.9 L489.1 513.2 L485.0 510.5 L480.9 505.0 L475.4 498.1 L469.9 493.3Z" fill="#D8BFD8"/>
<path d="M460.2 518.0 L464.4 516.0 L469.9 516.7 L474.0 518.7 L471.2 522.2 L465.7 523.5 L460.9 521.5Z" fill="#D8BFD8"/>
<path d="M498.7 511.2 L502.8 511.9 L509.7 516.0 L519.1 521.5 L519.1 527.7 L507.0 527.0 L500.1 524.9 L498.0 518.7Z" fill="#D8BFD8"/>
</g>
<g clip-path="url(#c29)">
<rect x="519" y="450" width="100" height="80" fill="#DDA0DD"/>
<path d="M593.2 450.0 L619.1 450.0 L619.1 530.0 L589.1 530.0 L588.4 524.2 L586.4 518.7 L583.6 514.6 L579.5 510.5 L575.4 507.7 L571.9 505.0 L570.5 498.1 L570.5 488.5 L572.6 481.6 L576.0 474.7 L579.5 467.9 L582.9 463.7 L586.4 463.1 L590.5 466.5 L596.0 467.9 L598.0 463.7 L596.0 458.2 L593.9 454.1Z" fill="#BA55D3"/>
<path d="M613.8 450.0 L619.1 450.0 L619.1 459.6 L615.9 458.2 L614.5 454.1Z" fill="#8B008B"/>
<path d="M604.2 505.0 L608.3 500.9 L613.8 500.2 L619.1 502.2 L619.1 530.0 L598.7 530.0 L600.1 525.6 L604.2 522.2 L607.0 518.0 L604.9 513.2 L603.1 509.1Z" fill="#8B008B"/>
<path d="M604.9 527.0 L609.7 525.6 L615.2 526.3 L619.1 527.0 L619.1 530.0 L604.2 530.0Z" fill="#990000"/>
<path d="M615.9 513.2 L619.1 512.5 L619.1 516.0 L616.6 515.7Z" fill="#990000"/>
</g>
</g>
<g clip-path="url(#mapclip)" stroke="#737373" stroke-width="1" stroke-dasharray="2 4" fill="none" shape-rendering="crispEdges">
<line x1="136.5" y1="52" x2="136.5" y2="529"/>
<line x1="196.5" y1="52" x2="196.5" y2="529"/>
<line x1="256.5" y1="52" x2="256.5" y2="529"/>
<line x1="317.5" y1="52" x2="317.5" y2="529"/>
<line x1="377.5" y1="52" x2="377.5" y2="529"/>
<line x1="437.5" y1="52" x2="437.5" y2="529"/>
<line x1="498.5" y1="52" x2="498.5" y2="529"/>
<line x1="558.5" y1="52" x2="558.5" y2="529"/>
<line x1="121" y1="106.5" x2="618" y2="106.5" stroke-dashoffset="4"/>
<line x1="121" y1="180.5" x2="618" y2="180.5" stroke-dashoffset="4"/>
<line x1="121" y1="254.5" x2="618" y2="254.5" stroke-dashoffset="4"/>
<line x1="121" y1="327.5" x2="618" y2="327.5" stroke-dashoffset="4"/>
<line x1="121" y1="401.5" x2="618" y2="401.5" stroke-dashoffset="4"/>
<line x1="121" y1="475.5" x2="618" y2="475.5" stroke-dashoffset="4"/>
</g>
<g clip-path="url(#mapclip)" stroke="#626662" stroke-width="2" fill="none" stroke-linejoin="round" stroke-linecap="round">
<path d="M158.2 51.9 L164.4 55.5 L174.0 57.6 L179.5 56.9 L183.6 58.9 L190.5 61.0 L196.8 62.6 L204.2 63.7 L212.5 65.1 L219.1 65.9"/>
<path d="M200.1 130.0 L201.5 125.6 L204.2 123.5 L213.8 122.9 L219.1 125.3"/>
<path d="M219.0 64.2 L230.0 64.4 L239.6 67.2 L246.5 67.6 L256.1 68.6 L261.6 70.6 L265.7 73.4 L276.7 74.7 L287.7 75.4 L290.5 76.1 L296.0 73.4 L302.8 69.9 L306.3 66.5 L309.7 61.7 L313.8 59.6 L319.1 58.5"/>
<path d="M239.6 67.2 L238.2 72.0 L230.0 76.8 L223.1 81.6 L219.7 85.1 L220.4 88.5 L227.2 89.9 L236.2 93.3 L234.1 97.4 L228.6 101.5 L225.9 106.4 L227.9 108.4 L233.4 106.6 L232.7 113.2 L230.7 118.7 L234.1 121.5 L239.6 123.5 L246.5 129.0 L247.9 130.0"/>
<path d="M223.1 106.4 L236.9 106.4"/>
<path d="M319.0 57.6 L332.7 57.6 L343.7 56.9 L353.4 54.8 L364.4 51.9"/>
<path d="M397.4 51.9 L401.5 57.6 L407.0 66.5 L412.5 70.6 L419.1 72.7"/>
<path d="M407.0 67.2 L401.5 66.5 L393.9 67.2 L391.9 70.6 L392.5 74.1 L383.6 76.8 L380.9 80.9 L374.0 85.1 L365.7 88.5 L356.1 89.9 L353.1 94.0 L354.1 98.8 L359.5 101.5 L360.2 107.7 L360.0 116.0 L356.8 118.7 L352.0 116.7 L346.5 118.7 L339.6 121.5 L334.1 124.9 L334.1 128.4 L338.2 130.0"/>
<path d="M419.0 72.7 L424.5 76.1 L429.3 79.6 L430.7 84.4 L434.8 88.5 L441.0 90.5 L447.2 93.3 L451.3 98.1 L453.4 105.0 L458.9 109.8 L464.4 110.5 L470.5 109.8 L474.7 113.2 L477.4 118.0 L483.6 120.1 L489.1 121.8 L501.5 122.2 L512.5 123.5 L519.1 124.2"/>
<path d="M519.0 124.9 L524.5 123.5 L532.7 118.0 L539.6 113.0 L547.2 113.9 L554.7 109.1 L563.0 104.7 L567.1 106.4 L574.0 106.4 L580.9 102.9 L586.4 98.8 L590.5 94.0 L596.0 93.7 L604.2 94.7 L612.5 94.0 L618.0 93.7"/>
<path d="M547.2 113.9 L552.0 117.4 L556.1 120.8 L556.4 130.0"/>
<path d="M202.8 130.0 L201.5 132.1 L194.6 133.4 L187.7 136.2 L180.9 139.6 L174.0 143.1 L168.5 145.1 L163.0 145.1 L158.9 147.9 L156.1 152.0 L154.1 155.4 L155.4 153.4 L158.9 149.2 L163.0 144.4 L169.2 139.6 L165.0 137.6 L160.2 140.3 L154.7 143.7 L150.6 147.9 L146.5 153.4 L144.4 157.5 L145.8 161.6 L150.6 165.7 L154.7 171.2 L157.5 175.4 L163.0 178.1 L168.5 181.5 L167.1 187.7 L165.0 191.9 L160.2 194.6 L158.9 190.5 L161.6 187.0 L158.9 190.5 L154.7 191.2 L151.3 193.9 L149.9 201.5 L150.9 210.0"/>
<path d="M241.0 130.0 L243.1 134.1 L239.6 136.9 L241.0 138.9 L232.7 141.0 L226.6 143.1 L229.3 150.6 L231.4 160.2 L232.7 168.5 L238.2 176.7 L242.4 182.2 L245.8 189.1 L245.1 191.2 L251.3 196.9 L255.8 193.0 L255.0 190.5 L256.4 186.4 L261.6 182.9 L266.4 180.9 L267.8 174.0 L270.5 167.1 L271.9 159.6 L275.4 154.7 L279.5 153.4 L285.0 156.1 L290.5 161.6 L296.0 167.1 L302.8 171.2 L308.3 174.0 L309.7 180.9 L310.4 187.7 L308.3 194.6 L307.0 200.1 L310.4 204.2 L315.2 208.4 L319.1 210.0"/>
<path d="M249.2 130.0 L251.3 132.7 L248.6 136.9"/>
<path d="M231.4 144.4 L236.9 146.5 L246.5 145.8 L260.2 144.4 L274.0 143.7 L282.2 143.7 L286.4 138.2 L290.5 132.1 L291.9 130.0"/>
<path d="M293.2 130.0 L298.7 135.5 L305.6 143.7 L312.5 143.1 L319.1 142.4"/>
<path d="M287.7 161.6 L281.5 172.6 L285.0 179.5 L296.0 182.9 L302.8 182.9 L304.2 179.5 L298.7 171.2 L293.2 164.4 L287.7 161.6"/>
<path d="M274.0 166.8 L277.4 166.8 L279.5 171.2 L280.9 176.7 L282.2 182.2 L283.6 189.1 L285.0 196.0 L287.0 202.9 L288.4 208.4 L286.4 210.0"/>
<path d="M279.5 210.0 L278.1 204.2 L276.7 196.0 L276.5 189.1 L277.4 183.6 L276.0 178.1 L274.0 174.0 L272.6 169.9 L274.0 166.8"/>
<path d="M319.0 143.1 L323.1 146.5 L327.2 147.9 L332.1 145.8 L334.8 141.7 L334.1 136.2 L336.9 132.1 L338.9 130.0"/>
<path d="M379.5 210.0 L377.4 204.9 L374.0 201.5 L367.1 200.1 L362.3 194.6 L360.9 187.7 L363.0 179.5 L362.3 169.9 L365.0 165.1 L369.9 162.7 L376.7 163.3 L380.9 167.1 L385.0 172.6 L389.1 177.4 L393.9 179.8 L398.0 177.4 L401.5 171.2 L405.6 165.7 L409.7 163.0 L415.2 162.7 L419.1 163.7"/>
<path d="M419.0 165.1 L425.9 165.5 L432.1 159.6 L438.2 163.7 L446.5 169.2 L451.3 169.2 L454.1 166.4 L460.2 169.2 L467.1 171.2 L474.0 171.2 L479.5 171.2 L486.4 176.0 L490.5 176.0 L496.0 173.3 L501.5 171.9 L505.6 174.0 L509.7 174.0 L512.5 169.9 L519.1 169.9"/>
<path d="M554.7 130.0 L552.0 134.8 L553.4 138.9 L558.2 139.6 L563.0 141.7 L563.7 143.7 L558.9 143.7 L556.8 149.2 L558.9 153.4 L564.4 157.5 L572.6 160.2 L580.9 162.3 L584.3 164.4 L582.9 167.1 L575.4 167.1 L571.9 163.7 L567.8 163.7 L565.0 169.9 L564.4 178.1 L560.2 183.6 L558.9 187.7 L563.0 187.7 L567.1 185.7 L574.0 185.7 L579.5 187.0 L581.5 189.1 L579.5 196.0 L576.7 202.9 L572.6 210.0"/>
<path d="M519.0 170.5 L525.9 171.2 L534.1 173.3 L539.6 176.7 L545.8 180.9 L543.7 185.0 L546.5 188.4 L553.4 190.5 L558.9 189.8 L560.2 188.4"/>
<path d="M150.9 210.0 L152.0 216.9 L154.7 225.1 L157.5 232.0 L160.2 238.2 L164.4 241.6 L169.9 247.8 L176.7 254.0 L185.0 256.0 L191.9 260.9 L198.7 265.0 L207.0 270.5 L213.8 276.0 L219.1 279.4"/>
<path d="M159.5 257.4 L163.0 254.7 L166.4 254.3 L166.4 258.8 L163.0 261.5 L160.2 260.2 L159.5 257.4"/>
<path d="M278.1 210.0 L287.7 218.2"/>
<path d="M279.5 210.0 L288.4 216.9"/>
<path d="M307.7 240.9 L318.0 252.6"/>
<path d="M308.3 240.2 L319.1 251.9"/>
<path d="M219.0 280.8 L225.9 281.5 L231.4 284.9 L233.4 290.0"/>
<path d="M307.0 210.0 L319.1 223.7"/>
<path d="M311.1 210.0 L319.1 218.2"/>
<path d="M377.4 210.0 L383.6 215.5 L387.7 222.4 L388.4 229.2 L386.4 234.7 L385.7 238.9 L391.9 239.6 L396.0 243.0 L400.1 248.5 L405.6 251.2 L411.1 251.9 L415.2 256.7 L419.1 261.5"/>
<path d="M319.0 212.7 L321.1 218.2 L325.9 223.7 L332.7 230.6 L327.2 232.0 L324.5 235.4 L326.6 239.6 L332.7 246.4 L339.6 254.0 L347.9 261.5 L353.4 266.4 L358.9 269.8 L364.4 271.2 L369.9 273.9 L374.0 277.4 L375.4 280.8 L371.9 284.2 L372.6 288.4 L376.7 290.0"/>
<path d="M319.0 210.0 L324.5 216.9 L332.7 226.5 L339.6 232.0 L348.6 233.6"/>
<path d="M319.0 216.9 L323.1 221.7 L327.2 226.5 L325.2 230.6"/>
<path d="M319.0 254.7 L323.1 257.4 L329.3 259.5 L329.3 262.2 L325.9 262.9 L321.7 258.1 L319.0 254.7"/>
<path d="M387.0 290.0 L390.5 287.7 L398.7 286.3 L405.6 287.7 L409.7 290.0"/>
<path d="M419.0 263.6 L423.1 269.1 L427.2 274.6 L432.7 281.5 L438.2 287.0 L441.7 290.0"/>
<path d="M571.2 210.0 L566.4 214.1 L565.0 219.6 L564.4 226.5 L567.1 231.3 L572.6 234.1 L579.5 237.5 L585.0 243.0 L590.5 247.1 L596.0 250.5 L593.9 254.7 L589.8 256.7 L583.6 256.7 L578.1 254.7 L573.3 252.9 L573.3 256.0 L576.7 260.9 L581.5 265.0 L586.4 269.1 L589.1 274.6 L588.4 281.5 L583.6 284.2 L576.7 286.3 L571.2 289.0 L564.4 288.4 L559.5 285.6 L555.4 290.0"/>
<path d="M233.4 290.0 L238.2 298.2 L242.4 306.5 L245.8 316.1 L247.9 324.4 L249.9 331.2 L252.7 339.5 L255.4 347.7 L260.2 355.3 L265.0 362.2 L268.5 367.0 L274.0 370.0"/>
<path d="M375.4 290.0 L379.5 291.6 L386.4 292.1 L390.5 290.0"/>
<path d="M379.5 323.0 L383.6 320.9 L390.5 320.9 L392.5 323.7 L389.8 326.4 L383.6 327.1 L380.2 326.0 L379.5 323.0"/>
<path d="M419.1 298.9 L409.7 298.2 L403.5 298.9 L401.5 302.4 L403.5 305.8 L409.7 307.9 L419.1 309.2"/>
<path d="M419.1 310.6 L408.3 310.6 L401.5 312.0 L399.8 313.6 L404.2 315.4 L412.5 318.2 L419.1 319.6"/>
<path d="M407.0 290.0 L412.5 292.7 L419.1 295.5"/>
<path d="M419.1 327.8 L415.2 329.2 L418.0 333.3 L419.1 333.7"/>
<path d="M441.7 290.0 L446.5 291.4 L452.0 295.5 L453.4 302.4 L456.1 307.9 L461.6 312.7 L468.5 316.8 L474.0 320.2 L477.4 324.4 L478.1 329.9 L474.0 331.2 L466.4 330.5 L465.7 325.7 L463.0 322.3 L457.5 319.6 L452.0 316.8 L447.9 314.7 L442.4 310.6 L436.9 305.1 L432.7 299.6 L427.2 296.2 L419.0 295.5"/>
<path d="M478.1 329.9 L482.2 333.3 L486.4 334.0 L489.1 338.1 L493.2 343.6 L501.5 346.4 L509.7 350.5 L515.2 354.6 L519.1 356.0"/>
<path d="M437.6 324.4 L443.7 324.4 L450.6 326.4 L457.5 330.5 L464.4 332.6 L474.0 334.0 L478.1 335.4 L474.0 336.0 L465.7 336.7 L460.2 335.4 L453.4 331.2 L446.5 329.2 L439.6 327.1 L437.6 324.4"/>
<path d="M460.2 335.4 L471.2 340.2 L480.9 342.9 L489.1 345.0 L496.0 347.7 L504.2 351.9 L512.5 357.4 L519.1 362.9"/>
<path d="M489.1 345.0 L493.9 349.1 L501.5 353.2 L508.3 357.4 L515.2 362.9 L519.1 366.3"/>
<path d="M419.0 300.3 L427.2 301.7 L430.0 305.1 L427.2 307.9 L419.0 307.9"/>
<path d="M419.0 314.7 L436.9 316.8 L444.4 316.8 L444.4 319.6 L436.9 319.1 L419.0 316.8"/>
<path d="M419.0 327.8 L427.2 329.9 L432.7 328.5 L437.6 327.1"/>
<path d="M419.0 333.3 L427.2 334.7 L436.9 334.0 L447.9 332.6 L446.5 330.5 L438.2 331.2"/>
<path d="M456.8 342.2 L463.0 341.5 L474.0 345.0 L482.2 347.7 L482.2 350.2 L474.0 348.4 L464.4 346.4 L457.5 345.0 L456.8 342.2"/>
<path d="M554.7 290.0 L558.9 294.1 L561.6 298.2 L563.7 303.7 L563.0 307.9 L558.9 309.2 L556.1 306.5 L555.4 303.7 L552.0 301.0 L546.5 302.4 L541.0 306.5 L538.2 312.0 L537.6 317.5 L536.9 323.0 L532.7 325.1 L527.2 327.8 L525.2 334.0 L525.2 340.9 L528.6 345.0 L532.7 349.1 L532.1 353.2 L528.6 356.7 L525.9 358.7 L519.0 354.6"/>
<path d="M525.9 358.7 L525.2 364.2 L527.2 368.4 L532.7 370.0"/>
<path d="M519.0 364.9 L524.5 367.7 L527.2 370.0"/>
<path d="M571.9 290.0 L576.7 294.8 L583.6 298.2 L589.1 302.4 L593.2 307.9 L597.4 313.4 L604.2 315.4 L612.5 317.5 L617.3 320.9 L618.0 331.2 L617.3 342.2 L619.1 347.7"/>
<path d="M587.7 370.0 L593.2 364.2 L596.0 357.4 L600.1 352.5 L602.8 353.2 L604.2 358.7 L607.0 364.2 L611.1 365.6 L615.2 364.2 L619.1 362.9"/>
<path d="M120.9 390.6 L123.1 395.4 L125.9 398.9 L129.3 398.2 L134.1 400.9 L139.6 403.0 L143.7 407.1 L147.9 414.0 L152.0 419.5 L157.5 424.3 L163.0 429.1 L168.5 435.3 L172.6 439.4 L178.1 441.5 L185.0 444.2 L190.5 447.0 L194.6 450.0"/>
<path d="M273.3 370.0 L278.1 374.8 L283.6 379.6 L289.1 384.4 L294.6 386.5 L300.1 389.2 L301.5 392.7 L307.0 396.8 L313.8 400.9 L319.1 403.0"/>
<path d="M319.0 401.9 L324.5 405.7 L332.7 407.4 L346.5 407.8 L360.2 406.8 L371.2 405.5 L378.1 404.1 L383.6 406.0 L387.7 410.5 L389.4 415.4 L386.4 419.5 L380.9 423.6 L375.4 426.4 L371.2 428.4 L370.1 433.2 L371.9 438.7 L376.7 442.9 L383.6 446.3 L393.2 450.0"/>
<path d="M526.6 370.0 L530.0 372.1 L535.5 373.4 L541.0 374.8 L546.5 378.2 L552.0 381.0 L555.4 386.5 L560.2 390.6 L565.0 394.7 L567.1 398.9 L566.4 403.7 L569.9 406.4 L575.4 408.5 L579.5 410.5 L586.4 411.9 L593.2 414.0 L594.3 419.5 L593.9 427.7 L590.5 431.9 L587.0 437.4 L585.7 442.9 L585.7 450.0"/>
<path d="M587.7 370.0 L583.6 375.5 L578.8 381.0 L576.0 387.2 L579.5 390.6 L582.2 394.1 L580.2 399.6 L579.5 405.7 L579.5 410.5"/>
<path d="M193.9 450.0 L197.4 455.5 L202.8 456.2 L208.3 453.4 L215.2 455.5 L219.1 456.9"/>
<path d="M219.0 454.8 L225.9 455.5 L232.7 455.8 L238.2 455.5 L242.4 457.6 L245.8 462.4 L250.6 465.1 L255.4 469.2 L256.8 474.7 L258.9 481.6 L261.6 486.4 L267.1 488.5 L272.6 486.8 L278.1 489.2 L283.6 492.6 L285.0 496.0 L280.9 500.2 L278.1 502.2 L282.2 503.6 L289.1 501.5 L296.0 499.5 L301.5 498.8 L305.6 500.9 L309.7 505.0 L313.8 511.9 L315.2 518.7 L313.8 524.9 L312.5 530.0"/>
<path d="M391.9 450.0 L398.7 452.7 L407.0 455.5 L413.8 458.2 L419.1 460.7"/>
<path d="M419.0 462.1 L425.9 463.7 L435.5 467.9 L445.1 470.6 L452.0 474.7 L458.9 480.9 L465.7 486.4 L474.0 489.9 L482.2 493.3 L490.5 496.0 L497.4 499.5 L500.1 502.9 L500.8 507.7 L507.0 511.9 L513.8 516.0 L519.1 519.4"/>
<path d="M423.1 528.6 L427.2 521.5 L432.7 514.6 L438.2 510.5 L443.7 509.8 L450.6 511.9 L457.5 513.2 L452.0 514.6 L449.9 517.4 L453.4 520.1 L460.2 522.9 L468.5 525.6 L479.5 526.7 L490.5 528.6"/>
<path d="M585.0 450.0 L589.1 452.7 L587.7 459.6 L585.7 466.5 L585.0 472.0 L589.1 476.1 L590.5 480.9 L583.6 483.7 L581.5 489.9 L579.5 496.7 L576.7 500.9 L581.5 505.0 L586.4 507.0 L587.7 511.9 L588.4 517.4 L586.4 522.9 L583.6 524.2 L580.2 518.7 L576.7 516.0 L576.0 518.0 L578.8 522.9 L582.2 528.6"/>
<path d="M519.0 521.5 L522.4 525.6 L524.5 528.6"/>
</g>
<!-- DHMZ box -->
<rect x="516" y="52" width="102" height="41" fill="#000"/>
<rect x="517" y="52" width="101" height="40" fill="#fff"/>
<text x="529.6" y="78.9" class="dh" textLength="14.6" lengthAdjust="spacingAndGlyphs">©</text><text x="548.6" y="78.9" class="dh" textLength="56.7" lengthAdjust="spacingAndGlyphs">DHMZ</text>
<!-- info box -->
<rect x="121" y="465" width="135" height="64" fill="#000"/>
<rect x="121" y="466" width="134" height="63" fill="#fff"/>
<text x="148.6" y="483" class="box" textLength="99.4" lengthAdjust="spacing">Temperatura zraka</text>
<text x="172.7" y="497" class="box" textLength="75.3" lengthAdjust="spacing">na 2m (st. C)</text>
<text x="142.9" y="510.8" class="box" textLength="104.6" lengthAdjust="spacing">start 00z19jun2011</text>
<text x="129.2" y="524" class="box" textLength="118.3" lengthAdjust="spacing">termin 06Z19JUN2011</text>
<!-- frame -->
<rect x="120" y="51" width="499" height="479" fill="none" stroke="#000" stroke-width="2" shape-rendering="crispEdges"/>
<g stroke="#000" stroke-width="1" shape-rendering="crispEdges">
<line x1="136.5" y1="531" x2="136.5" y2="534"/>
<line x1="196.5" y1="531" x2="196.5" y2="534"/>
<line x1="256.5" y1="531" x2="256.5" y2="534"/>
<line x1="317.5" y1="531" x2="317.5" y2="534"/>
<line x1="377.5" y1="531" x2="377.5" y2="534"/>
<line x1="437.5" y1="531" x2="437.5" y2="534"/>
<line x1="498.5" y1="531" x2="498.5" y2="534"/>
<line x1="558.5" y1="531" x2="558.5" y2="534"/>
<line x1="619.5" y1="531" x2="619.5" y2="534"/>
<line x1="116" y1="106.5" x2="119" y2="106.5"/>
<line x1="116" y1="180.5" x2="119" y2="180.5"/>
<line x1="116" y1="254.5" x2="119" y2="254.5"/>
<line x1="116" y1="327.5" x2="119" y2="327.5"/>
<line x1="116" y1="401.5" x2="119" y2="401.5"/>
<line x1="116" y1="475.5" x2="119" y2="475.5"/>
</g>
<text x="129.5" y="544.1" class="ax" textLength="15.6" lengthAdjust="spacingAndGlyphs">12E</text>
<text x="189.5" y="544.1" class="ax" textLength="15.6" lengthAdjust="spacingAndGlyphs">13E</text>
<text x="249.5" y="544.1" class="ax" textLength="15.6" lengthAdjust="spacingAndGlyphs">14E</text>
<text x="310.5" y="544.1" class="ax" textLength="15.6" lengthAdjust="spacingAndGlyphs">15E</text>
<text x="370.5" y="544.1" class="ax" textLength="15.6" lengthAdjust="spacingAndGlyphs">16E</text>
<text x="430.5" y="544.1" class="ax" textLength="15.6" lengthAdjust="spacingAndGlyphs">17E</text>
<text x="491.5" y="544.1" class="ax" textLength="15.6" lengthAdjust="spacingAndGlyphs">18E</text>
<text x="551.5" y="544.1" class="ax" textLength="15.6" lengthAdjust="spacingAndGlyphs">19E</text>
<text x="612.5" y="544.1" class="ax" textLength="15.6" lengthAdjust="spacingAndGlyphs">20E</text>
<text x="97" y="110.7" class="ax" textLength="17.2" lengthAdjust="spacingAndGlyphs">46N</text>
<text x="97" y="184.7" class="ax" textLength="17.2" lengthAdjust="spacingAndGlyphs">45N</text>
<text x="97" y="258.7" class="ax" textLength="17.2" lengthAdjust="spacingAndGlyphs">44N</text>
<text x="97" y="331.7" class="ax" textLength="17.2" lengthAdjust="spacingAndGlyphs">43N</text>
<text x="97" y="405.7" class="ax" textLength="17.2" lengthAdjust="spacingAndGlyphs">42N</text>
<text x="97" y="479.7" class="ax" textLength="17.2" lengthAdjust="spacingAndGlyphs">41N</text>
<text x="170.0" y="39.8" class="ttl" textLength="97.0" lengthAdjust="spacingAndGlyphs">Temperatura</text>
<text x="279.3" y="39.8" class="ttl" textLength="39.7" lengthAdjust="spacingAndGlyphs">zraka</text>
<text x="332.0" y="39.8" class="ttl" textLength="18.0" lengthAdjust="spacingAndGlyphs">na</text>
<text x="359.5" y="39.8" class="ttl" textLength="20.2" lengthAdjust="spacingAndGlyphs">2m</text>
<text x="393.7" y="39.8" class="ttl" textLength="6.3" lengthAdjust="spacingAndGlyphs">u</text>
<text x="411.4" y="39.8" class="ttl" textLength="18.9" lengthAdjust="spacingAndGlyphs">06</text>
<text x="441.8" y="39.8" class="ttl" textLength="27.1" lengthAdjust="spacingAndGlyphs">UTC</text>
<text x="482.0" y="39.8" class="ttl" textLength="84.5" lengthAdjust="spacingAndGlyphs">19JUN2011</text>
<rect x="652" y="77.00" width="15" height="18.94" fill="#FFEBD7"/>
<rect x="652" y="95.64" width="15" height="18.94" fill="#D8BFD8"/>
<rect x="652" y="114.27" width="15" height="18.94" fill="#DDA0DD"/>
<rect x="652" y="132.91" width="15" height="18.94" fill="#BA55D3"/>
<rect x="652" y="151.55" width="15" height="18.94" fill="#8B008B"/>
<rect x="652" y="170.18" width="15" height="18.94" fill="#990000"/>
<rect x="652" y="188.82" width="15" height="18.94" fill="#CC0000"/>
<rect x="652" y="207.45" width="15" height="18.94" fill="#FF0000"/>
<rect x="652" y="226.09" width="15" height="18.94" fill="#FF5500"/>
<rect x="652" y="244.73" width="15" height="18.94" fill="#F08228"/>
<rect x="652" y="263.36" width="15" height="18.94" fill="#E6AF2D"/>
<rect x="652" y="282.00" width="15" height="18.94" fill="#E6DC32"/>
<rect x="652" y="300.64" width="15" height="18.94" fill="#F5F05A"/>
<rect x="652" y="319.27" width="15" height="18.94" fill="#E1F5A0"/>
<rect x="652" y="337.91" width="15" height="18.94" fill="#A0E632"/>
<rect x="652" y="356.55" width="15" height="18.94" fill="#00DC00"/>
<rect x="652" y="375.18" width="15" height="18.94" fill="#00B400"/>
<rect x="652" y="393.82" width="15" height="18.94" fill="#008200"/>
<rect x="652" y="412.45" width="15" height="18.94" fill="#1E3CFF"/>
<rect x="652" y="431.09" width="15" height="18.94" fill="#00A0FF"/>
<rect x="652" y="449.73" width="15" height="18.94" fill="#B0E0E6"/>
<rect x="652" y="468.36" width="15" height="18.94" fill="#F0FFFF"/>
<text x="670" y="80.9" class="lg">29</text>
<text x="670" y="99.5" class="lg">27</text>
<text x="670" y="118.2" class="lg">25</text>
<text x="670" y="136.8" class="lg">23</text>
<text x="670" y="155.4" class="lg">21</text>
<text x="670" y="174.1" class="lg">19</text>
<text x="670" y="192.7" class="lg">17</text>
<text x="670" y="211.4" class="lg">15</text>
<text x="670" y="230.0" class="lg">13</text>
<text x="670" y="248.6" class="lg">11</text>
<text x="670" y="267.3" class="lg">9</text>
<text x="670" y="285.9" class="lg">7</text>
<text x="670" y="304.5" class="lg">5</text>
<text x="670" y="323.2" class="lg">3</text>
<text x="670" y="341.8" class="lg">1</text>
<text x="670" y="360.4" class="lg">−1</text>
<text x="670" y="379.1" class="lg">−3</text>
<text x="670" y="397.7" class="lg">−5</text>
<text x="670" y="416.4" class="lg">−7</text>
<text x="670" y="435.0" class="lg">−9</text>
<text x="670" y="453.6" class="lg">−11</text>
<text x="670" y="472.3" class="lg">−13</text>
<text x="670" y="490.9" class="lg">−15</text>
<text x="670" y="509.5" class="lg">−17</text>
<text x="664.7" y="528.3" style="font-size:10px" textLength="35.4" lengthAdjust="spacing">(st. C)</text>
</svg>
</body></html>
